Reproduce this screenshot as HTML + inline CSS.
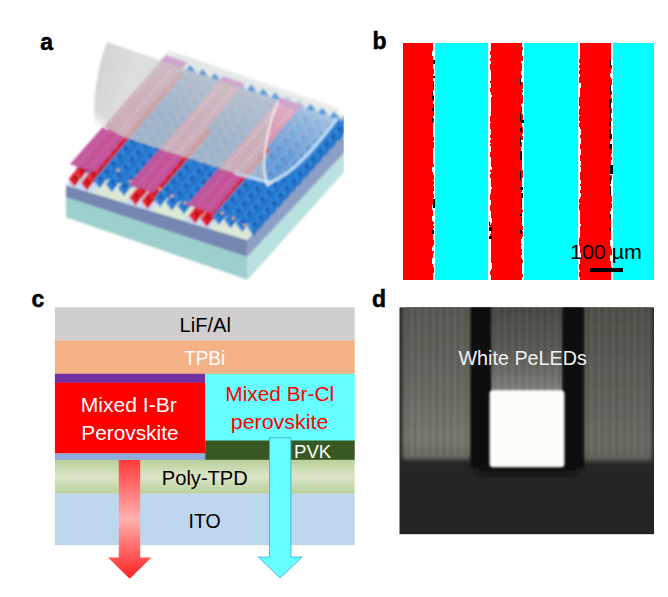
<!DOCTYPE html>
<html><head><meta charset="utf-8"><title>Figure</title>
<style>
html,body{margin:0;padding:0;background:#fff;}
body{width:668px;height:597px;overflow:hidden;font-family:"Liberation Sans",sans-serif;}
svg{display:block;font-family:"Liberation Sans",sans-serif;}
</style></head><body>
<svg width="668" height="597" viewBox="0 0 668 597">
<defs>
<linearGradient id="gPoly" x1="0" y1="0" x2="0" y2="1"><stop offset="0" stop-color="#b9cf98"/><stop offset="0.5" stop-color="#dbe6c8"/><stop offset="1" stop-color="#b9cf98"/></linearGradient>
<linearGradient id="gRedArrow" x1="0" y1="0" x2="0" y2="1"><stop offset="0" stop-color="#ff3a3a"/><stop offset="0.5" stop-color="#ffb0b0"/><stop offset="1" stop-color="#ff2020"/></linearGradient>
<linearGradient id="gDL" x1="0" y1="0" x2="0" y2="1"><stop offset="0" stop-color="#54564f"/><stop offset="0.5" stop-color="#65675f"/><stop offset="0.88" stop-color="#75776d"/><stop offset="1" stop-color="#66685f"/></linearGradient>
<linearGradient id="gDR" x1="0" y1="0" x2="0" y2="1"><stop offset="0" stop-color="#4c4e48"/><stop offset="0.5" stop-color="#5c5e56"/><stop offset="0.9" stop-color="#696b62"/><stop offset="1" stop-color="#5e6058"/></linearGradient>
<linearGradient id="gDM" x1="0" y1="0" x2="0" y2="1"><stop offset="0" stop-color="#464842"/><stop offset="0.6" stop-color="#5c5e58"/><stop offset="0.88" stop-color="#777973"/><stop offset="1" stop-color="#8a8c86"/></linearGradient>
<linearGradient id="gDG" x1="0" y1="0" x2="0" y2="1"><stop offset="0" stop-color="#2a2b28"/><stop offset="1" stop-color="#232421"/></linearGradient>
<pattern id="pStripe" patternUnits="userSpaceOnUse" x="400" y="0" width="7.2" height="10"><rect x="0" y="0" width="1.8" height="10" fill="#000" fill-opacity="0.05"/><rect x="3.6" y="0" width="1.8" height="10" fill="#fff" fill-opacity="0.035"/></pattern>
<clipPath id="clipD"><rect x="399.3" y="307.3" width="254.7" height="227.1"/></clipPath>
<filter id="blurD" x="-10%" y="-10%" width="120%" height="120%"><feGaussianBlur stdDeviation="1.3"/></filter>
<filter id="blurD2" x="-10%" y="-10%" width="120%" height="120%"><feGaussianBlur stdDeviation="0.8"/></filter>
<filter id="blurD3" x="-10%" y="-10%" width="120%" height="120%"><feGaussianBlur stdDeviation="2.2"/></filter>
<filter id="blurD4" x="-20%" y="-50%" width="140%" height="200%"><feGaussianBlur stdDeviation="3"/></filter>
<clipPath id="clipA"><rect x="55" y="30" width="288.7" height="260"/></clipPath>
<filter id="blurA" x="-5%" y="-5%" width="110%" height="110%"><feGaussianBlur stdDeviation="0.9"/></filter>
<clipPath id="clipRegA"><path d="M95 124 L125 137.5 L161 149.5 L180 155.5 L240 175 L270.0 182.5 C 298 172, 325 134, 337 119 L340 110 L350 110 L350 290 L50 290 L50 110 Z"/></clipPath>
<clipPath id="clipFlat"><path d="M104.5 126.5 L168.6 49.8 L339 108.2 L 337 119 C 325 134, 298 172, 270.0 182.5 L 240 175 L 180 155.5 L 161 149.5 L 125 137.5 L 104.5 126.5 Z"/></clipPath>
<linearGradient id="gFlat" gradientUnits="userSpaceOnUse" x1="215" y1="60" x2="190" y2="125"><stop offset="0" stop-color="#e6e6e8" stop-opacity="0.85"/><stop offset="0.3" stop-color="#e4e8ee" stop-opacity="0.58"/><stop offset="1" stop-color="#e4eaf2" stop-opacity="0.32"/></linearGradient>
<linearGradient id="gLift" gradientUnits="userSpaceOnUse" x1="94" y1="85" x2="160" y2="105"><stop offset="0" stop-color="#b6b6b6" stop-opacity="0.6"/><stop offset="0.5" stop-color="#c8c8c8" stop-opacity="0.6"/><stop offset="1" stop-color="#c5c5c5" stop-opacity="0.62"/></linearGradient>
<radialGradient id="gFade" gradientUnits="userSpaceOnUse" cx="90" cy="134" r="24"><stop offset="0" stop-color="#000"/><stop offset="0.4" stop-color="#000"/><stop offset="1" stop-color="#fff"/></radialGradient>
<mask id="mLift" maskUnits="userSpaceOnUse" x="50" y="30" width="300" height="260"><rect x="50" y="30" width="300" height="260" fill="#fff"/><rect x="50" y="30" width="300" height="260" fill="url(#gFade)"/></mask>
</defs>
<rect x="0" y="0" width="668" height="597" fill="#ffffff"/>
<text x="40.2" y="49.6" font-size="23" font-weight="bold" fill="#000" stroke="#000" stroke-width="0.5">a</text>
<text x="372.6" y="48.6" font-size="23" font-weight="bold" fill="#000" stroke="#000" stroke-width="0.5">b</text>
<text x="31.6" y="307.0" font-size="23" font-weight="bold" fill="#000" stroke="#000" stroke-width="0.5">c</text>
<text x="372.0" y="307.0" font-size="23" font-weight="bold" fill="#000" stroke="#000" stroke-width="0.5">d</text>
<g id="pb" shape-rendering="crispEdges">
<rect x="403.2" y="43.2" width="250.4" height="236.4" fill="#ffffff"/>
<rect x="403.2" y="43.2" width="30.2" height="236.4" fill="#ff0000"/>
<rect x="435.4" y="43.2" width="53.0" height="236.4" fill="#00ffff"/>
<rect x="491.4" y="43.2" width="30.2" height="236.4" fill="#ff0000"/>
<rect x="523.6" y="43.2" width="54.0" height="236.4" fill="#00ffff"/>
<rect x="580.4" y="43.2" width="30.2" height="236.4" fill="#ff0000"/>
<rect x="612.6" y="43.2" width="41.0" height="236.4" fill="#00ffff"/>
<rect x="432.4" y="51.2" width="1" height="5" fill="#ffffff"/><rect x="433.4" y="69.2" width="1" height="5" fill="#ff0000"/><rect x="433.4" y="95.2" width="1" height="6" fill="#ff0000"/><rect x="433.4" y="104.2" width="1" height="5" fill="#ff0000"/><rect x="433.4" y="110.2" width="1" height="6" fill="#ff0000"/><rect x="433.4" y="118.2" width="1" height="5" fill="#ff0000"/><rect x="433.4" y="137.2" width="1" height="4" fill="#ff0000"/><rect x="433.4" y="142.2" width="1" height="6" fill="#ff0000"/><rect x="433.4" y="164.2" width="1" height="3" fill="#ff0000"/><rect x="432.4" y="167.2" width="1" height="5" fill="#ffffff"/><rect x="433.4" y="175.2" width="1" height="5" fill="#ff0000"/><rect x="433.4" y="181.2" width="1" height="4" fill="#ff0000"/><rect x="433.4" y="187.2" width="1" height="4" fill="#ff0000"/><rect x="433.4" y="194.2" width="1" height="2" fill="#ff0000"/><rect x="433.4" y="196.2" width="1" height="2" fill="#ff0000"/><rect x="432.4" y="205.2" width="1" height="5" fill="#ffffff"/><rect x="432.4" y="216.2" width="1" height="5" fill="#ffffff"/><rect x="433.4" y="222.2" width="1" height="2" fill="#ff0000"/><rect x="433.4" y="226.2" width="1" height="2" fill="#ff0000"/><rect x="433.4" y="240.2" width="1" height="5" fill="#ff0000"/><rect x="432.4" y="247.2" width="1" height="4" fill="#ffffff"/><rect x="433.4" y="251.2" width="1" height="2" fill="#ff0000"/><rect x="432.4" y="258.2" width="1" height="6" fill="#ffffff"/><rect x="433.4" y="267.2" width="1" height="6" fill="#ff0000"/><rect x="521.6" y="47.2" width="1" height="3" fill="#ff0000"/><rect x="521.6" y="56.2" width="1" height="5" fill="#ff0000"/><rect x="520.6" y="61.2" width="1" height="2" fill="#ffffff"/><rect x="520.6" y="71.2" width="1" height="4" fill="#ffffff"/><rect x="520.6" y="78.2" width="1" height="4" fill="#ffffff"/><rect x="521.6" y="82.2" width="1" height="3" fill="#ff0000"/><rect x="521.6" y="85.2" width="1" height="4" fill="#ff0000"/><rect x="521.6" y="90.2" width="1" height="2" fill="#ff0000"/><rect x="521.6" y="95.2" width="1" height="5" fill="#ff0000"/><rect x="521.6" y="100.2" width="1" height="3" fill="#ff0000"/><rect x="520.6" y="104.2" width="1" height="2" fill="#ffffff"/><rect x="521.6" y="114.2" width="1" height="6" fill="#ff0000"/><rect x="521.6" y="127.2" width="1" height="2" fill="#ff0000"/><rect x="521.6" y="129.2" width="1" height="5" fill="#ff0000"/><rect x="521.6" y="136.2" width="1" height="4" fill="#ff0000"/><rect x="520.6" y="140.2" width="1" height="2" fill="#ffffff"/><rect x="520.6" y="147.2" width="1" height="4" fill="#ffffff"/><rect x="521.6" y="170.2" width="1" height="6" fill="#ff0000"/><rect x="521.6" y="176.2" width="1" height="2" fill="#ff0000"/><rect x="520.6" y="192.2" width="1" height="5" fill="#ffffff"/><rect x="521.6" y="210.2" width="1" height="2" fill="#ff0000"/><rect x="521.6" y="226.2" width="1" height="4" fill="#ff0000"/><rect x="521.6" y="231.2" width="1" height="6" fill="#ff0000"/><rect x="520.6" y="239.2" width="1" height="5" fill="#ffffff"/><rect x="520.6" y="245.2" width="1" height="4" fill="#ffffff"/><rect x="520.6" y="255.2" width="1" height="3" fill="#ffffff"/><rect x="521.6" y="260.2" width="1" height="3" fill="#ff0000"/><rect x="521.6" y="274.2" width="1" height="3" fill="#ff0000"/><rect x="610.6" y="65.2" width="1" height="4" fill="#ff0000"/><rect x="609.6" y="73.2" width="1" height="4" fill="#ffffff"/><rect x="610.6" y="79.2" width="1" height="6" fill="#ff0000"/><rect x="609.6" y="86.2" width="1" height="5" fill="#ffffff"/><rect x="610.6" y="91.2" width="1" height="4" fill="#ff0000"/><rect x="610.6" y="98.2" width="1" height="5" fill="#ff0000"/><rect x="610.6" y="108.2" width="1" height="5" fill="#ff0000"/><rect x="609.6" y="113.2" width="1" height="5" fill="#ffffff"/><rect x="610.6" y="118.2" width="1" height="3" fill="#ff0000"/><rect x="609.6" y="136.2" width="1" height="2" fill="#ffffff"/><rect x="609.6" y="141.2" width="1" height="3" fill="#ffffff"/><rect x="609.6" y="145.2" width="1" height="2" fill="#ffffff"/><rect x="610.6" y="149.2" width="1" height="5" fill="#ff0000"/><rect x="610.6" y="157.2" width="1" height="3" fill="#ff0000"/><rect x="609.6" y="171.2" width="1" height="4" fill="#ffffff"/><rect x="610.6" y="175.2" width="1" height="5" fill="#ff0000"/><rect x="609.6" y="183.2" width="1" height="4" fill="#ffffff"/><rect x="610.6" y="196.2" width="1" height="6" fill="#ff0000"/><rect x="610.6" y="203.2" width="1" height="5" fill="#ff0000"/><rect x="609.6" y="211.2" width="1" height="5" fill="#ffffff"/><rect x="609.6" y="216.2" width="1" height="3" fill="#ffffff"/><rect x="609.6" y="240.2" width="1" height="6" fill="#ffffff"/><rect x="610.6" y="249.2" width="1" height="6" fill="#ff0000"/><rect x="609.6" y="255.2" width="1" height="6" fill="#ffffff"/><rect x="610.6" y="267.2" width="1" height="5" fill="#ff0000"/><rect x="490.4" y="51.2" width="1" height="4" fill="#ff0000"/><rect x="490.4" y="58.2" width="1" height="3" fill="#ff0000"/><rect x="490.4" y="64.2" width="1" height="6" fill="#ff0000"/><rect x="490.4" y="81.2" width="1" height="2" fill="#ff0000"/><rect x="490.4" y="88.2" width="1" height="4" fill="#ff0000"/><rect x="491.4" y="95.2" width="1" height="2" fill="#ffffff"/><rect x="490.4" y="116.2" width="1" height="6" fill="#ff0000"/><rect x="490.4" y="123.2" width="1" height="6" fill="#ff0000"/><rect x="490.4" y="135.2" width="1" height="3" fill="#ff0000"/><rect x="490.4" y="140.2" width="1" height="3" fill="#ff0000"/><rect x="490.4" y="144.2" width="1" height="2" fill="#ff0000"/><rect x="490.4" y="152.2" width="1" height="5" fill="#ff0000"/><rect x="491.4" y="167.2" width="1" height="3" fill="#ffffff"/><rect x="490.4" y="170.2" width="1" height="2" fill="#ff0000"/><rect x="490.4" y="174.2" width="1" height="4" fill="#ff0000"/><rect x="491.4" y="187.2" width="1" height="2" fill="#ffffff"/><rect x="490.4" y="194.2" width="1" height="3" fill="#ff0000"/><rect x="490.4" y="197.2" width="1" height="3" fill="#ff0000"/><rect x="490.4" y="205.2" width="1" height="6" fill="#ff0000"/><rect x="491.4" y="218.2" width="1" height="5" fill="#ffffff"/><rect x="490.4" y="225.2" width="1" height="5" fill="#ff0000"/><rect x="490.4" y="234.2" width="1" height="3" fill="#ff0000"/><rect x="491.4" y="263.2" width="1" height="6" fill="#ffffff"/><rect x="490.4" y="271.2" width="1" height="4" fill="#ff0000"/><rect x="579.4" y="59.2" width="1" height="4" fill="#ff0000"/><rect x="579.4" y="65.2" width="1" height="3" fill="#ff0000"/><rect x="579.4" y="70.2" width="1" height="4" fill="#ff0000"/><rect x="579.4" y="77.2" width="1" height="6" fill="#ff0000"/><rect x="580.4" y="83.2" width="1" height="5" fill="#ffffff"/><rect x="579.4" y="97.2" width="1" height="6" fill="#ff0000"/><rect x="579.4" y="103.2" width="1" height="3" fill="#ff0000"/><rect x="579.4" y="109.2" width="1" height="6" fill="#ff0000"/><rect x="579.4" y="116.2" width="1" height="5" fill="#ff0000"/><rect x="579.4" y="123.2" width="1" height="4" fill="#ff0000"/><rect x="580.4" y="129.2" width="1" height="6" fill="#ffffff"/><rect x="580.4" y="138.2" width="1" height="6" fill="#ffffff"/><rect x="580.4" y="149.2" width="1" height="6" fill="#ffffff"/><rect x="580.4" y="161.2" width="1" height="5" fill="#ffffff"/><rect x="580.4" y="167.2" width="1" height="5" fill="#ffffff"/><rect x="580.4" y="180.2" width="1" height="4" fill="#ffffff"/><rect x="580.4" y="186.2" width="1" height="4" fill="#ffffff"/><rect x="580.4" y="193.2" width="1" height="4" fill="#ffffff"/><rect x="579.4" y="199.2" width="1" height="4" fill="#ff0000"/><rect x="579.4" y="204.2" width="1" height="6" fill="#ff0000"/><rect x="580.4" y="224.2" width="1" height="2" fill="#ffffff"/><rect x="579.4" y="238.2" width="1" height="3" fill="#ff0000"/><rect x="579.4" y="241.2" width="1" height="5" fill="#ff0000"/><rect x="580.4" y="253.2" width="1" height="6" fill="#ffffff"/><rect x="579.4" y="264.2" width="1" height="6" fill="#ff0000"/><rect x="579.4" y="272.2" width="1" height="5" fill="#ff0000"/>
<rect x="432.7" y="60.0" width="2" height="4" fill="#000"/><rect x="432.7" y="76.0" width="2" height="2" fill="#000"/><rect x="432.7" y="81.0" width="1" height="9" fill="#000"/><rect x="431.7" y="92.0" width="1" height="3" fill="#000"/><rect x="431.7" y="96.0" width="2" height="4" fill="#000"/><rect x="431.7" y="108.0" width="2" height="3" fill="#000"/><rect x="432.2" y="118.0" width="1" height="4" fill="#000"/><rect x="432.7" y="186.0" width="1" height="3" fill="#000"/><rect x="432.7" y="199.0" width="2" height="9" fill="#000"/><rect x="431.7" y="230.0" width="2" height="4" fill="#000"/><rect x="520.4" y="78.0" width="1" height="7" fill="#000"/><rect x="521.4" y="99.0" width="1" height="4" fill="#000"/><rect x="520.9" y="108.0" width="1" height="4" fill="#000"/><rect x="519.9" y="113.0" width="1" height="9" fill="#000"/><rect x="520.9" y="120.0" width="3" height="3" fill="#000"/><rect x="520.4" y="128.0" width="2" height="4" fill="#000"/><rect x="519.9" y="137.0" width="1" height="9" fill="#000"/><rect x="519.9" y="151.0" width="2" height="9" fill="#000"/><rect x="519.9" y="171.0" width="1" height="9" fill="#000"/><rect x="520.4" y="187.0" width="3" height="3" fill="#000"/><rect x="520.9" y="193.0" width="2" height="5" fill="#000"/><rect x="520.9" y="199.0" width="1" height="9" fill="#000"/><rect x="521.4" y="210.0" width="1" height="3" fill="#000"/><rect x="519.9" y="214.0" width="2" height="2" fill="#000"/><rect x="521.4" y="218.0" width="1" height="3" fill="#000"/><rect x="520.4" y="230.0" width="2" height="4" fill="#000"/><rect x="521.4" y="259.0" width="1" height="3" fill="#000"/><rect x="489.0" y="222.0" width="1" height="4" fill="#000"/><rect x="489.0" y="227.0" width="3" height="4" fill="#000"/><rect x="489.0" y="236.0" width="3" height="3" fill="#000"/><rect x="609.7" y="60.0" width="1" height="7" fill="#000"/><rect x="608.7" y="79.0" width="1" height="3" fill="#000"/><rect x="610.2" y="85.0" width="1" height="9" fill="#000"/><rect x="608.7" y="99.0" width="2" height="9" fill="#000"/><rect x="610.2" y="110.0" width="1" height="9" fill="#000"/><rect x="609.2" y="121.0" width="2" height="5" fill="#000"/><rect x="609.7" y="129.0" width="1" height="5" fill="#000"/><rect x="608.7" y="130.0" width="2" height="2" fill="#000"/><rect x="608.7" y="134.0" width="3" height="5" fill="#000"/><rect x="609.2" y="144.0" width="3" height="5" fill="#000"/><rect x="609.2" y="152.0" width="1" height="5" fill="#000"/><rect x="609.7" y="165.0" width="3" height="9" fill="#000"/><rect x="609.7" y="177.0" width="1" height="7" fill="#000"/><rect x="609.7" y="186.0" width="1" height="9" fill="#000"/><rect x="608.7" y="203.0" width="1" height="5" fill="#000"/><rect x="610.2" y="214.0" width="1" height="5" fill="#000"/><rect x="610.2" y="228.0" width="1" height="3" fill="#000"/>
<rect x="590" y="268.2" width="33" height="3.8" fill="#000"/>
</g>
<text x="570.0" y="259.2" font-size="19.8" fill="#000" font-weight="normal" text-anchor="start" textLength="72" lengthAdjust="spacingAndGlyphs">100 µm</text>
<g id="pc">
<rect x="54.9" y="307.3" width="299.8" height="33.3" fill="#d0cece"/>
<rect x="54.9" y="340.4" width="299.8" height="33.6" fill="#f4b183"/>
<rect x="54.9" y="373.8" width="150.3" height="9.1" fill="#7030a0"/>
<rect x="54.9" y="382.7" width="150.3" height="70.9" fill="#ff0000"/>
<rect x="54.9" y="453.4" width="150.3" height="6.6" fill="#8faadc"/>
<rect x="205.2" y="373.8" width="149.5" height="67.2" fill="#66ffff"/>
<rect x="205.2" y="440.5" width="149.5" height="19.5" fill="#385723"/>
<rect x="54.9" y="459.8" width="299.8" height="34.0" fill="url(#gPoly)"/>
<rect x="54.9" y="493.6" width="299.8" height="51.6" fill="#bdd7ee"/>
<text x="179.6" y="331.8" font-size="19.4" fill="#000" font-weight="normal" text-anchor="start" textLength="51.3" lengthAdjust="spacingAndGlyphs">LiF/Al</text>
<text x="184.2" y="365.4" font-size="19.4" fill="#fff" font-weight="normal" text-anchor="start" textLength="41" lengthAdjust="spacingAndGlyphs">TPBi</text>
<text x="80.8" y="412.0" font-size="20" fill="#fff" font-weight="normal" text-anchor="start" textLength="96" lengthAdjust="spacingAndGlyphs">Mixed I-Br</text>
<text x="81.3" y="440.0" font-size="20" fill="#fff" font-weight="normal" text-anchor="start" textLength="97.2" lengthAdjust="spacingAndGlyphs">Perovskite</text>
<text x="225.3" y="400.8" font-size="20" fill="#ff0000" font-weight="normal" text-anchor="start" textLength="108.8" lengthAdjust="spacingAndGlyphs">Mixed Br-Cl</text>
<text x="230.8" y="428.8" font-size="20" fill="#ff0000" font-weight="normal" text-anchor="start" textLength="97.5" lengthAdjust="spacingAndGlyphs">perovskite</text>
<text x="294.0" y="457.8" font-size="19" fill="#fff" font-weight="normal" text-anchor="start" textLength="37.2" lengthAdjust="spacingAndGlyphs">PVK</text>
<text x="161.8" y="484.9" font-size="20" fill="#000" font-weight="normal" text-anchor="start" textLength="86" lengthAdjust="spacingAndGlyphs">Poly-TPD</text>
<text x="188.6" y="528.0" font-size="20" fill="#000" font-weight="normal" text-anchor="start" textLength="32.2" lengthAdjust="spacingAndGlyphs">ITO</text>
<path d="M118.8 460 L140.2 460 L140.2 557.4 L151.5 557.4 L129.7 578.8 L108 557.4 L118.8 557.4 Z" fill="url(#gRedArrow)"/>
<path d="M269.5 437.8 L290.9 437.8 L290.9 557 L302.2 557 L280.2 578 L258.2 557 L269.5 557 Z" fill="#66ffff" stroke="#41a0d8" stroke-width="0.8"/>
</g>
<g id="pd" clip-path="url(#clipD)">
<rect x="399.3" y="307.3" width="254.7" height="227.1" fill="url(#gDG)"/>
<g filter="url(#blurD3)">
<rect x="402.5" y="296" width="69" height="163.5" rx="3" fill="url(#gDL)"/>
<rect x="583.0" y="296" width="69" height="165" rx="3" fill="url(#gDR)"/>
</g>
<g filter="url(#blurD)">
<rect x="490" y="300" width="73" height="95" fill="url(#gDM)"/>
</g>
<rect x="402" y="300" width="250" height="156" fill="url(#pStripe)"/>
<g filter="url(#blurD4)"><rect x="476" y="462" width="103" height="12" rx="4" fill="#0a0a09"/></g>
<g filter="url(#blurD)">
<rect x="470.8" y="296" width="20.2" height="172" fill="#070707"/>
<rect x="562.6" y="296" width="21.0" height="172" fill="#070707"/>
</g>
<g filter="url(#blurD2)"><rect x="489.6" y="390.2" width="74.8" height="77" rx="3.5" fill="#fdfdf8"/></g>
</g>
<text x="458.5" y="364.7" font-size="20" fill="#f2f2f2" font-weight="normal" text-anchor="start" textLength="128.3" lengthAdjust="spacingAndGlyphs">White PeLEDs</text>
<g id="pa" clip-path="url(#clipA)"><g filter="url(#blurA)">
<polygon points="66,196.5 247.3,256.5 247.6,279.8 66,217.2" fill="#9dcfcc" />
<polygon points="66,185 247,240 247.3,256.8 66,197" fill="#7486b0" />
<polygon points="247.3,256.5 357.3,138.6 357.6,156.9 247.6,279.8" fill="#b9e1df" />
<polygon points="247,240 357.0,120.5 357.3,138.6 247.3,256.8" fill="#8e9fc6" />
<polygon points="66.0,185.0 247.0,240.0 357.0,120.5 176.0,53.0" fill="#dbe9d6" />
<polygon points="66.0,185.0 93.0,193.2 203.0,73.7 176.0,65.5" fill="#c9ddf6" />
<polygon points="124.6,202.8 151.6,211.0 261.6,91.5 234.6,83.3" fill="#c9ddf6" />
<polygon points="183.2,220.6 210.2,228.8 320.2,109.3 293.2,101.1" fill="#c9ddf6" />
<polygon points="75.1,169.4 253.6,223.0 342.8,123.2 163.0,64.2" fill="#2578cc" />
<g id="cryst"><path d="M164.9 62.9L171.0 70.9L164.9 78.9L158.7 70.9Z" fill="#e8212b"/><path d="M164.9 62.9L171.0 70.9L164.9 78.9Z" fill="#cf1520"/><circle cx="165.4" cy="69.0" r="1.5" fill="#a80f18"/><path d="M177.3 66.9L183.5 75.0L177.3 83.1L171.1 75.0Z" fill="#e8212b"/><path d="M177.3 66.9L183.5 75.0L177.3 83.1Z" fill="#cf1520"/><circle cx="177.8" cy="73.1" r="1.5" fill="#a80f18"/><path d="M158.2 70.9L164.4 78.9L158.2 86.9L152.1 78.9Z" fill="#e8212b"/><path d="M158.2 70.9L164.4 78.9L158.2 86.9Z" fill="#cf1520"/><circle cx="158.7" cy="77.0" r="1.5" fill="#a80f18"/><path d="M190.2 64.9L196.5 73.1L190.2 81.2L184.0 73.1Z" fill="#2d84da"/><path d="M190.2 64.9L196.5 73.1L190.2 81.2Z" fill="#2473c8"/><circle cx="190.7" cy="71.1" r="1.5" fill="#17479a"/><path d="M170.7 74.9L176.9 82.9L170.7 91.0L164.5 82.9Z" fill="#e8212b"/><path d="M170.7 74.9L176.9 82.9L170.7 91.0Z" fill="#cf1520"/><circle cx="171.2" cy="81.0" r="1.5" fill="#a80f18"/><path d="M202.5 68.9L208.8 77.1L202.5 85.3L196.3 77.1Z" fill="#2d84da"/><path d="M202.5 68.9L208.8 77.1L202.5 85.3Z" fill="#2473c8"/><circle cx="203.0" cy="75.2" r="1.5" fill="#17479a"/><path d="M151.6 78.9L157.7 86.8L151.6 94.7L145.5 86.8Z" fill="#e8212b"/><path d="M151.6 78.9L157.7 86.8L151.6 94.7Z" fill="#cf1520"/><circle cx="152.1" cy="84.9" r="1.5" fill="#a80f18"/><path d="M183.6 72.9L189.8 81.0L183.6 89.1L177.4 81.0Z" fill="#2d84da"/><path d="M183.6 72.9L189.8 81.0L183.6 89.1Z" fill="#2473c8"/><circle cx="184.1" cy="79.0" r="1.5" fill="#17479a"/><path d="M214.8 72.9L221.1 81.2L214.8 89.4L208.5 81.2Z" fill="#2d84da"/><path d="M214.8 72.9L221.1 81.2L214.8 89.4Z" fill="#2473c8"/><circle cx="215.3" cy="79.2" r="1.5" fill="#17479a"/><path d="M164.1 82.8L170.2 90.8L164.1 98.8L157.9 90.8Z" fill="#e8212b"/><path d="M164.1 82.8L170.2 90.8L164.1 98.8Z" fill="#cf1520"/><circle cx="164.6" cy="88.9" r="1.5" fill="#a80f18"/><path d="M195.9 76.8L202.2 85.0L195.9 93.2L189.6 85.0Z" fill="#2d84da"/><path d="M195.9 76.8L202.2 85.0L195.9 93.2Z" fill="#2473c8"/><circle cx="196.4" cy="83.0" r="1.5" fill="#17479a"/><path d="M226.5 82.8L232.9 91.2L226.5 99.5L220.1 91.2Z" fill="#e8212b"/><path d="M226.5 82.8L232.9 91.2L226.5 99.5Z" fill="#cf1520"/><circle cx="227.0" cy="89.2" r="1.5" fill="#a80f18"/><path d="M145.0 86.8L151.1 94.7L145.0 102.6L139.0 94.7Z" fill="#e8212b"/><path d="M145.0 86.8L151.1 94.7L145.0 102.6Z" fill="#cf1520"/><circle cx="145.5" cy="92.8" r="1.5" fill="#a80f18"/><path d="M176.9 80.8L183.1 88.8L176.9 96.9L170.8 88.8Z" fill="#2d84da"/><path d="M176.9 80.8L183.1 88.8L176.9 96.9Z" fill="#2473c8"/><circle cx="177.4" cy="86.9" r="1.5" fill="#17479a"/><path d="M208.1 80.7L214.5 89.0L208.1 97.2L201.8 89.0Z" fill="#2d84da"/><path d="M208.1 80.7L214.5 89.0L208.1 97.2Z" fill="#2473c8"/><circle cx="208.6" cy="87.0" r="1.5" fill="#17479a"/><path d="M239.1 80.7L245.6 89.1L239.1 97.5L232.7 89.1Z" fill="#2d84da"/><path d="M239.1 80.7L245.6 89.1L239.1 97.5Z" fill="#2473c8"/><circle cx="239.6" cy="87.1" r="1.5" fill="#17479a"/><path d="M157.5 90.7L163.6 98.7L157.5 106.6L151.4 98.7Z" fill="#e8212b"/><path d="M157.5 90.7L163.6 98.7L157.5 106.6Z" fill="#cf1520"/><circle cx="158.0" cy="96.8" r="1.5" fill="#a80f18"/><path d="M189.3 84.7L195.5 92.8L189.3 101.0L183.0 92.8Z" fill="#2d84da"/><path d="M189.3 84.7L195.5 92.8L189.3 101.0Z" fill="#2473c8"/><circle cx="189.8" cy="90.9" r="1.5" fill="#17479a"/><path d="M219.8 90.7L226.2 99.0L219.8 107.3L213.5 99.0Z" fill="#e8212b"/><path d="M219.8 90.7L226.2 99.0L219.8 107.3Z" fill="#cf1520"/><circle cx="220.3" cy="97.0" r="1.5" fill="#a80f18"/><path d="M251.2 84.6L257.7 93.1L251.2 101.6L244.7 93.1Z" fill="#2d84da"/><path d="M251.2 84.6L257.7 93.1L251.2 101.6Z" fill="#2473c8"/><circle cx="251.7" cy="91.1" r="1.5" fill="#17479a"/><path d="M138.5 94.7L144.5 102.5L138.5 110.4L132.5 102.5Z" fill="#e8212b"/><path d="M138.5 94.7L144.5 102.5L138.5 110.4Z" fill="#cf1520"/><circle cx="139.0" cy="100.6" r="1.5" fill="#a80f18"/><path d="M170.3 88.6L176.5 96.7L170.3 104.7L164.2 96.7Z" fill="#2d84da"/><path d="M170.3 88.6L176.5 96.7L170.3 104.7Z" fill="#2473c8"/><circle cx="170.8" cy="94.7" r="1.5" fill="#17479a"/><path d="M201.5 88.6L207.8 96.8L201.5 105.0L195.2 96.8Z" fill="#2d84da"/><path d="M201.5 88.6L207.8 96.8L201.5 105.0Z" fill="#2473c8"/><circle cx="202.0" cy="94.8" r="1.5" fill="#17479a"/><path d="M232.4 88.5L238.9 96.9L232.4 105.3L226.0 96.9Z" fill="#2d84da"/><path d="M232.4 88.5L238.9 96.9L232.4 105.3Z" fill="#2473c8"/><circle cx="232.9" cy="94.9" r="1.5" fill="#17479a"/><path d="M263.2 88.5L269.7 97.0L263.2 105.6L256.7 97.0Z" fill="#2d84da"/><path d="M263.2 88.5L269.7 97.0L263.2 105.6Z" fill="#2473c8"/><circle cx="263.7" cy="95.0" r="1.5" fill="#17479a"/><path d="M150.9 98.6L157.0 106.5L150.9 114.4L144.8 106.5Z" fill="#e8212b"/><path d="M150.9 98.6L157.0 106.5L150.9 114.4Z" fill="#cf1520"/><circle cx="151.4" cy="104.6" r="1.5" fill="#a80f18"/><path d="M182.6 92.5L188.9 100.6L182.6 108.7L176.4 100.6Z" fill="#2d84da"/><path d="M182.6 92.5L188.9 100.6L182.6 108.7Z" fill="#2473c8"/><circle cx="183.1" cy="98.7" r="1.5" fill="#17479a"/><path d="M213.2 98.5L219.5 106.7L213.2 115.0L206.8 106.7Z" fill="#e8212b"/><path d="M213.2 98.5L219.5 106.7L213.2 115.0Z" fill="#cf1520"/><circle cx="213.7" cy="104.7" r="1.5" fill="#a80f18"/><path d="M244.5 92.4L251.0 100.8L244.5 109.3L238.0 100.8Z" fill="#2d84da"/><path d="M244.5 92.4L251.0 100.8L244.5 109.3Z" fill="#2473c8"/><circle cx="245.0" cy="98.8" r="1.5" fill="#17479a"/><path d="M275.1 92.4L281.7 101.0L275.1 109.6L268.5 101.0Z" fill="#2d84da"/><path d="M275.1 92.4L281.7 101.0L275.1 109.6Z" fill="#2473c8"/><circle cx="275.6" cy="98.9" r="1.5" fill="#17479a"/><path d="M132.0 102.5L138.0 110.3L132.0 118.2L125.9 110.3Z" fill="#e8212b"/><path d="M132.0 102.5L138.0 110.3L132.0 118.2Z" fill="#cf1520"/><circle cx="132.5" cy="108.5" r="1.5" fill="#a80f18"/><path d="M163.8 96.4L169.9 104.4L163.8 112.4L157.6 104.4Z" fill="#2d84da"/><path d="M163.8 96.4L169.9 104.4L163.8 112.4Z" fill="#2473c8"/><circle cx="164.3" cy="102.5" r="1.5" fill="#17479a"/><path d="M194.9 96.4L201.1 104.5L194.9 112.7L188.6 104.5Z" fill="#2d84da"/><path d="M194.9 96.4L201.1 104.5L194.9 112.7Z" fill="#2473c8"/><circle cx="195.4" cy="102.6" r="1.5" fill="#17479a"/><path d="M225.8 96.3L232.2 104.6L225.8 113.0L219.4 104.6Z" fill="#2d84da"/><path d="M225.8 96.3L232.2 104.6L225.8 113.0Z" fill="#2473c8"/><circle cx="226.3" cy="102.6" r="1.5" fill="#17479a"/><path d="M256.5 96.3L263.0 104.7L256.5 113.2L250.0 104.7Z" fill="#2d84da"/><path d="M256.5 96.3L263.0 104.7L256.5 113.2Z" fill="#2473c8"/><circle cx="257.0" cy="102.7" r="1.5" fill="#17479a"/><path d="M287.0 96.2L293.7 104.9L287.0 113.5L280.4 104.9Z" fill="#2d84da"/><path d="M287.0 96.2L293.7 104.9L287.0 113.5Z" fill="#2473c8"/><circle cx="287.5" cy="102.8" r="1.5" fill="#17479a"/><path d="M144.4 106.4L150.4 114.3L144.4 122.2L138.3 114.3Z" fill="#e8212b"/><path d="M144.4 106.4L150.4 114.3L144.4 122.2Z" fill="#cf1520"/><circle cx="144.9" cy="112.4" r="1.5" fill="#a80f18"/><path d="M176.1 100.3L182.3 108.4L176.1 116.4L169.9 108.4Z" fill="#2d84da"/><path d="M176.1 100.3L182.3 108.4L176.1 116.4Z" fill="#2473c8"/><circle cx="176.6" cy="106.4" r="1.5" fill="#17479a"/><path d="M206.6 106.2L212.9 114.5L206.6 122.7L200.2 114.5Z" fill="#e8212b"/><path d="M206.6 106.2L212.9 114.5L206.6 122.7Z" fill="#cf1520"/><circle cx="207.1" cy="112.5" r="1.5" fill="#a80f18"/><path d="M237.8 100.2L244.3 108.6L237.8 117.0L231.4 108.6Z" fill="#2d84da"/><path d="M237.8 100.2L244.3 108.6L237.8 117.0Z" fill="#2473c8"/><circle cx="238.3" cy="106.5" r="1.5" fill="#17479a"/><path d="M268.4 100.1L275.0 108.6L268.4 117.2L261.9 108.6Z" fill="#2d84da"/><path d="M268.4 100.1L275.0 108.6L268.4 117.2Z" fill="#2473c8"/><circle cx="268.9" cy="106.6" r="1.5" fill="#17479a"/><path d="M298.8 100.0L305.5 108.7L298.8 117.5L292.2 108.7Z" fill="#2d84da"/><path d="M298.8 100.0L305.5 108.7L298.8 117.5Z" fill="#2473c8"/><circle cx="299.3" cy="106.6" r="1.5" fill="#17479a"/><path d="M125.4 110.3L131.4 118.1L125.4 125.9L119.5 118.1Z" fill="#e8212b"/><path d="M125.4 110.3L131.4 118.1L125.4 125.9Z" fill="#cf1520"/><circle cx="125.9" cy="116.3" r="1.5" fill="#a80f18"/><path d="M157.2 104.2L163.3 112.2L157.2 120.2L151.1 112.2Z" fill="#2d84da"/><path d="M157.2 104.2L163.3 112.2L157.2 120.2Z" fill="#2473c8"/><circle cx="157.7" cy="110.3" r="1.5" fill="#17479a"/><path d="M188.3 104.1L194.5 112.3L188.3 120.4L182.1 112.3Z" fill="#2d84da"/><path d="M188.3 104.1L194.5 112.3L188.3 120.4Z" fill="#2473c8"/><circle cx="188.8" cy="110.3" r="1.5" fill="#17479a"/><path d="M219.2 104.1L225.5 112.4L219.2 120.7L212.8 112.4Z" fill="#2d84da"/><path d="M219.2 104.1L225.5 112.4L219.2 120.7Z" fill="#2473c8"/><circle cx="219.7" cy="110.4" r="1.5" fill="#17479a"/><path d="M249.8 104.0L256.3 112.4L249.8 120.9L243.4 112.4Z" fill="#2d84da"/><path d="M249.8 104.0L256.3 112.4L249.8 120.9Z" fill="#2473c8"/><circle cx="250.3" cy="110.4" r="1.5" fill="#17479a"/><path d="M279.8 109.9L286.4 118.5L279.8 127.1L273.2 118.5Z" fill="#e8212b"/><path d="M279.8 109.9L286.4 118.5L279.8 127.1Z" fill="#cf1520"/><circle cx="280.3" cy="116.4" r="1.5" fill="#a80f18"/><path d="M310.6 103.8L317.3 112.6L310.6 121.4L303.9 112.6Z" fill="#2d84da"/><path d="M310.6 103.8L317.3 112.6L310.6 121.4Z" fill="#2473c8"/><circle cx="311.1" cy="110.5" r="1.5" fill="#17479a"/><path d="M137.9 114.2L143.9 122.0L137.9 129.9L131.8 122.0Z" fill="#e8212b"/><path d="M137.9 114.2L143.9 122.0L137.9 129.9Z" fill="#cf1520"/><circle cx="138.4" cy="120.1" r="1.5" fill="#a80f18"/><path d="M169.5 108.1L175.7 116.1L169.5 124.1L163.4 116.1Z" fill="#2d84da"/><path d="M169.5 108.1L175.7 116.1L169.5 124.1Z" fill="#2473c8"/><circle cx="170.0" cy="114.2" r="1.5" fill="#17479a"/><path d="M200.0 114.0L206.2 122.2L200.0 130.4L193.7 122.2Z" fill="#e8212b"/><path d="M200.0 114.0L206.2 122.2L200.0 130.4Z" fill="#cf1520"/><circle cx="200.5" cy="120.2" r="1.5" fill="#a80f18"/><path d="M231.2 107.9L237.6 116.2L231.2 124.6L224.8 116.2Z" fill="#2d84da"/><path d="M231.2 107.9L237.6 116.2L231.2 124.6Z" fill="#2473c8"/><circle cx="231.7" cy="114.2" r="1.5" fill="#17479a"/><path d="M261.8 107.8L268.3 116.3L261.8 124.8L255.2 116.3Z" fill="#2d84da"/><path d="M261.8 107.8L268.3 116.3L261.8 124.8Z" fill="#2473c8"/><circle cx="262.3" cy="114.3" r="1.5" fill="#17479a"/><path d="M292.1 107.7L298.8 116.4L292.1 125.1L285.5 116.4Z" fill="#2d84da"/><path d="M292.1 107.7L298.8 116.4L292.1 125.1Z" fill="#2473c8"/><circle cx="292.6" cy="114.3" r="1.5" fill="#17479a"/><path d="M322.3 107.6L329.1 116.4L322.3 125.3L315.5 116.4Z" fill="#2d84da"/><path d="M322.3 107.6L329.1 116.4L322.3 125.3Z" fill="#2473c8"/><circle cx="322.8" cy="114.3" r="1.5" fill="#17479a"/><path d="M119.0 118.1L124.9 125.9L119.0 133.6L113.0 125.9Z" fill="#e8212b"/><path d="M119.0 118.1L124.9 125.9L119.0 133.6Z" fill="#cf1520"/><circle cx="119.5" cy="124.0" r="1.5" fill="#a80f18"/><path d="M150.7 112.0L156.8 119.9L150.7 127.9L144.6 119.9Z" fill="#2d84da"/><path d="M150.7 112.0L156.8 119.9L150.7 127.9Z" fill="#2473c8"/><circle cx="151.2" cy="118.0" r="1.5" fill="#17479a"/><path d="M181.7 111.9L187.9 120.0L181.7 128.1L175.5 120.0Z" fill="#2d84da"/><path d="M181.7 111.9L187.9 120.0L181.7 128.1Z" fill="#2473c8"/><circle cx="182.2" cy="118.0" r="1.5" fill="#17479a"/><path d="M212.6 111.8L218.9 120.0L212.6 128.3L206.2 120.0Z" fill="#2d84da"/><path d="M212.6 111.8L218.9 120.0L212.6 128.3Z" fill="#2473c8"/><circle cx="213.1" cy="118.1" r="1.5" fill="#17479a"/><path d="M243.2 111.7L249.7 120.1L243.2 128.5L236.7 120.1Z" fill="#2d84da"/><path d="M243.2 111.7L249.7 120.1L243.2 128.5Z" fill="#2473c8"/><circle cx="243.7" cy="118.1" r="1.5" fill="#17479a"/><path d="M273.1 117.5L279.7 126.1L273.1 134.7L266.6 126.1Z" fill="#e8212b"/><path d="M273.1 117.5L279.7 126.1L273.1 134.7Z" fill="#cf1520"/><circle cx="273.6" cy="124.1" r="1.5" fill="#a80f18"/><path d="M303.9 111.4L310.6 120.2L303.9 128.9L297.2 120.2Z" fill="#2d84da"/><path d="M303.9 111.4L310.6 120.2L303.9 128.9Z" fill="#2473c8"/><circle cx="304.4" cy="118.1" r="1.5" fill="#17479a"/><path d="M333.9 111.3L340.8 120.2L333.9 129.2L327.1 120.2Z" fill="#2d84da"/><path d="M333.9 111.3L340.8 120.2L333.9 129.2Z" fill="#2473c8"/><circle cx="334.4" cy="118.1" r="1.5" fill="#17479a"/><path d="M131.4 121.9L137.4 129.8L131.4 137.6L125.4 129.8Z" fill="#e8212b"/><path d="M131.4 121.9L137.4 129.8L131.4 137.6Z" fill="#cf1520"/><circle cx="131.9" cy="127.9" r="1.5" fill="#a80f18"/><path d="M163.0 115.8L169.1 123.8L163.0 131.8L156.9 123.8Z" fill="#2d84da"/><path d="M163.0 115.8L169.1 123.8L163.0 131.8Z" fill="#2473c8"/><circle cx="163.5" cy="121.9" r="1.5" fill="#17479a"/><path d="M193.4 121.7L199.7 129.8L193.4 138.0L187.1 129.8Z" fill="#e8212b"/><path d="M193.4 121.7L199.7 129.8L193.4 138.0Z" fill="#cf1520"/><circle cx="193.9" cy="127.9" r="1.5" fill="#a80f18"/><path d="M224.6 115.6L231.0 123.9L224.6 132.2L218.2 123.9Z" fill="#2d84da"/><path d="M224.6 115.6L231.0 123.9L224.6 132.2Z" fill="#2473c8"/><circle cx="225.1" cy="121.9" r="1.5" fill="#17479a"/><path d="M255.1 115.4L261.6 123.9L255.1 132.4L248.6 123.9Z" fill="#2d84da"/><path d="M255.1 115.4L261.6 123.9L255.1 132.4Z" fill="#2473c8"/><circle cx="255.6" cy="121.9" r="1.5" fill="#17479a"/><path d="M285.4 115.3L292.1 124.0L285.4 132.6L278.8 124.0Z" fill="#2d84da"/><path d="M285.4 115.3L292.1 124.0L285.4 132.6Z" fill="#2473c8"/><circle cx="285.9" cy="121.9" r="1.5" fill="#17479a"/><path d="M315.6 115.2L322.3 124.0L315.6 132.8L308.8 124.0Z" fill="#2d84da"/><path d="M315.6 115.2L322.3 124.0L315.6 132.8Z" fill="#2473c8"/><circle cx="316.1" cy="121.9" r="1.5" fill="#17479a"/><path d="M345.5 113.9L352.1 124.0L345.5 134.2L338.9 124.0Z" fill="#2d84da"/><path d="M345.5 113.9L352.1 124.0L345.5 134.2Z" fill="#2473c8"/><circle cx="346.0" cy="121.6" r="1.5" fill="#17479a"/><path d="M112.5 125.9L118.4 133.6L112.5 141.3L106.6 133.6Z" fill="#e8212b"/><path d="M112.5 125.9L118.4 133.6L112.5 141.3Z" fill="#cf1520"/><circle cx="113.0" cy="131.7" r="1.5" fill="#a80f18"/><path d="M144.2 119.7L150.3 127.6L144.2 135.5L138.2 127.6Z" fill="#2d84da"/><path d="M144.2 119.7L150.3 127.6L144.2 135.5Z" fill="#2473c8"/><circle cx="144.7" cy="125.7" r="1.5" fill="#17479a"/><path d="M175.2 119.6L181.4 127.7L175.2 135.7L169.0 127.7Z" fill="#2d84da"/><path d="M175.2 119.6L181.4 127.7L175.2 135.7Z" fill="#2473c8"/><circle cx="175.7" cy="125.7" r="1.5" fill="#17479a"/><path d="M205.5 125.5L211.8 133.7L205.5 141.9L199.2 133.7Z" fill="#e8212b"/><path d="M205.5 125.5L211.8 133.7L205.5 141.9Z" fill="#cf1520"/><circle cx="206.0" cy="131.7" r="1.5" fill="#a80f18"/><path d="M236.6 119.3L243.0 127.7L236.6 136.1L230.2 127.7Z" fill="#2d84da"/><path d="M236.6 119.3L243.0 127.7L236.6 136.1Z" fill="#2473c8"/><circle cx="237.1" cy="125.7" r="1.5" fill="#17479a"/><path d="M266.5 125.2L273.0 133.7L266.5 142.3L259.9 133.7Z" fill="#e8212b"/><path d="M266.5 125.2L273.0 133.7L266.5 142.3Z" fill="#cf1520"/><circle cx="267.0" cy="131.7" r="1.5" fill="#a80f18"/><path d="M297.2 119.0L303.9 127.8L297.2 136.5L290.5 127.8Z" fill="#2d84da"/><path d="M297.2 119.0L303.9 127.8L297.2 136.5Z" fill="#2473c8"/><circle cx="297.7" cy="125.7" r="1.5" fill="#17479a"/><path d="M327.2 118.9L334.0 127.8L327.2 136.7L320.4 127.8Z" fill="#2d84da"/><path d="M327.2 118.9L334.0 127.8L327.2 136.7Z" fill="#2473c8"/><circle cx="327.7" cy="125.7" r="1.5" fill="#17479a"/><path d="M124.9 129.7L130.9 137.5L124.9 145.3L118.9 137.5Z" fill="#e8212b"/><path d="M124.9 129.7L130.9 137.5L124.9 145.3Z" fill="#cf1520"/><circle cx="125.4" cy="135.6" r="1.5" fill="#a80f18"/><path d="M156.5 123.5L162.6 131.5L156.5 139.4L150.4 131.5Z" fill="#2d84da"/><path d="M156.5 123.5L162.6 131.5L156.5 139.4Z" fill="#2473c8"/><circle cx="157.0" cy="129.6" r="1.5" fill="#17479a"/><path d="M186.9 129.4L193.1 137.5L186.9 145.6L180.6 137.5Z" fill="#e8212b"/><path d="M186.9 129.4L193.1 137.5L186.9 145.6Z" fill="#cf1520"/><circle cx="187.4" cy="135.5" r="1.5" fill="#a80f18"/><path d="M218.0 123.2L224.4 131.5L218.0 139.8L211.7 131.5Z" fill="#2d84da"/><path d="M218.0 123.2L224.4 131.5L218.0 139.8Z" fill="#2473c8"/><circle cx="218.5" cy="129.5" r="1.5" fill="#17479a"/><path d="M248.5 123.1L255.0 131.5L248.5 140.0L242.0 131.5Z" fill="#2d84da"/><path d="M248.5 123.1L255.0 131.5L248.5 140.0Z" fill="#2473c8"/><circle cx="249.0" cy="129.5" r="1.5" fill="#17479a"/><path d="M278.8 122.9L285.4 131.5L278.8 140.2L272.2 131.5Z" fill="#2d84da"/><path d="M278.8 122.9L285.4 131.5L278.8 140.2Z" fill="#2473c8"/><circle cx="279.3" cy="129.5" r="1.5" fill="#17479a"/><path d="M308.9 122.8L315.6 131.6L308.9 140.3L302.1 131.6Z" fill="#2d84da"/><path d="M308.9 122.8L315.6 131.6L308.9 140.3Z" fill="#2473c8"/><circle cx="309.4" cy="129.4" r="1.5" fill="#17479a"/><path d="M338.8 121.4L345.3 131.6L338.8 141.7L332.2 131.6Z" fill="#2d84da"/><path d="M338.8 121.4L345.3 131.6L338.8 141.7Z" fill="#2473c8"/><circle cx="339.3" cy="129.1" r="1.5" fill="#17479a"/><path d="M106.1 133.6L112.0 141.3L106.1 149.0L100.2 141.3Z" fill="#e8212b"/><path d="M106.1 133.6L112.0 141.3L106.1 149.0Z" fill="#cf1520"/><circle cx="106.6" cy="139.4" r="1.5" fill="#a80f18"/><path d="M137.7 127.4L143.8 135.3L137.7 143.2L131.7 135.3Z" fill="#2d84da"/><path d="M137.7 127.4L143.8 135.3L137.7 143.2Z" fill="#2473c8"/><circle cx="138.2" cy="133.4" r="1.5" fill="#17479a"/><path d="M168.7 127.3L174.8 135.3L168.7 143.3L162.5 135.3Z" fill="#2d84da"/><path d="M168.7 127.3L174.8 135.3L168.7 143.3Z" fill="#2473c8"/><circle cx="169.2" cy="133.4" r="1.5" fill="#17479a"/><path d="M198.9 133.1L205.2 141.3L198.9 149.5L192.7 141.3Z" fill="#e8212b"/><path d="M198.9 133.1L205.2 141.3L198.9 149.5Z" fill="#cf1520"/><circle cx="199.4" cy="139.3" r="1.5" fill="#a80f18"/><path d="M230.0 126.9L236.4 135.3L230.0 143.7L223.6 135.3Z" fill="#2d84da"/><path d="M230.0 126.9L236.4 135.3L230.0 143.7Z" fill="#2473c8"/><circle cx="230.5" cy="133.3" r="1.5" fill="#17479a"/><path d="M259.9 132.8L266.4 141.3L259.9 149.8L253.3 141.3Z" fill="#e8212b"/><path d="M259.9 132.8L266.4 141.3L259.9 149.8Z" fill="#cf1520"/><circle cx="260.4" cy="139.3" r="1.5" fill="#a80f18"/><path d="M290.5 126.6L297.2 135.3L290.5 144.0L283.9 135.3Z" fill="#2d84da"/><path d="M290.5 126.6L297.2 135.3L290.5 144.0Z" fill="#2473c8"/><circle cx="291.0" cy="133.2" r="1.5" fill="#17479a"/><path d="M320.5 126.5L327.3 135.3L320.5 144.2L313.7 135.3Z" fill="#2d84da"/><path d="M320.5 126.5L327.3 135.3L320.5 144.2Z" fill="#2473c8"/><circle cx="321.0" cy="133.2" r="1.5" fill="#17479a"/><path d="M332.1 129.0L338.6 139.1L332.1 149.2L325.5 139.1Z" fill="#2d84da"/><path d="M332.1 129.0L338.6 139.1L332.1 149.2Z" fill="#2473c8"/><circle cx="332.6" cy="136.6" r="1.5" fill="#17479a"/><path d="M302.2 130.3L308.9 139.1L302.2 147.8L295.5 139.1Z" fill="#2d84da"/><path d="M302.2 130.3L308.9 139.1L302.2 147.8Z" fill="#2473c8"/><circle cx="302.7" cy="137.0" r="1.5" fill="#17479a"/><path d="M272.1 130.5L278.7 139.1L272.1 147.7L265.6 139.1Z" fill="#2d84da"/><path d="M272.1 130.5L278.7 139.1L272.1 147.7Z" fill="#2473c8"/><circle cx="272.6" cy="137.0" r="1.5" fill="#17479a"/><path d="M241.9 130.7L248.4 139.1L241.9 147.5L235.4 139.1Z" fill="#2d84da"/><path d="M241.9 130.7L248.4 139.1L241.9 147.5Z" fill="#2473c8"/><circle cx="242.4" cy="137.1" r="1.5" fill="#17479a"/><path d="M211.5 130.8L217.8 139.1L211.5 147.4L205.1 139.1Z" fill="#2d84da"/><path d="M211.5 130.8L217.8 139.1L211.5 147.4Z" fill="#2473c8"/><circle cx="212.0" cy="137.1" r="1.5" fill="#17479a"/><path d="M180.3 137.0L186.5 145.1L180.3 153.2L174.1 145.1Z" fill="#e8212b"/><path d="M180.3 137.0L186.5 145.1L180.3 153.2Z" fill="#cf1520"/><circle cx="180.8" cy="143.2" r="1.5" fill="#a80f18"/><path d="M150.0 131.2L156.1 139.1L150.0 147.0L143.9 139.1Z" fill="#2d84da"/><path d="M150.0 131.2L156.1 139.1L150.0 147.0Z" fill="#2473c8"/><circle cx="150.5" cy="137.2" r="1.5" fill="#17479a"/><path d="M118.5 137.4L124.4 145.1L118.5 152.9L112.5 145.1Z" fill="#e8212b"/><path d="M118.5 137.4L124.4 145.1L118.5 152.9Z" fill="#cf1520"/><circle cx="119.0" cy="143.3" r="1.5" fill="#a80f18"/><path d="M313.8 134.0L320.6 142.8L313.8 151.6L307.1 142.8Z" fill="#2d84da"/><path d="M313.8 134.0L320.6 142.8L313.8 151.6Z" fill="#2473c8"/><circle cx="314.3" cy="140.7" r="1.5" fill="#17479a"/><path d="M283.9 134.2L290.5 142.8L283.9 151.5L277.3 142.8Z" fill="#2d84da"/><path d="M283.9 134.2L290.5 142.8L283.9 151.5Z" fill="#2473c8"/><circle cx="284.4" cy="140.8" r="1.5" fill="#17479a"/><path d="M253.3 140.4L259.8 148.8L253.3 157.3L246.7 148.8Z" fill="#e8212b"/><path d="M253.3 140.4L259.8 148.8L253.3 157.3Z" fill="#cf1520"/><circle cx="253.8" cy="146.8" r="1.5" fill="#a80f18"/><path d="M223.4 134.5L229.8 142.9L223.4 151.2L217.1 142.9Z" fill="#2d84da"/><path d="M223.4 134.5L229.8 142.9L223.4 151.2Z" fill="#2473c8"/><circle cx="223.9" cy="140.9" r="1.5" fill="#17479a"/><path d="M192.4 140.7L198.7 148.9L192.4 157.0L186.2 148.9Z" fill="#e8212b"/><path d="M192.4 140.7L198.7 148.9L192.4 157.0Z" fill="#cf1520"/><circle cx="192.9" cy="146.9" r="1.5" fill="#a80f18"/><path d="M162.2 134.9L168.3 142.9L162.2 150.9L156.1 142.9Z" fill="#2d84da"/><path d="M162.2 134.9L168.3 142.9L162.2 150.9Z" fill="#2473c8"/><circle cx="162.7" cy="141.0" r="1.5" fill="#17479a"/><path d="M131.3 135.1L137.3 142.9L131.3 150.8L125.3 142.9Z" fill="#2d84da"/><path d="M131.3 135.1L137.3 142.9L131.3 150.8Z" fill="#2473c8"/><circle cx="131.8" cy="141.1" r="1.5" fill="#17479a"/><path d="M99.7 141.3L105.6 149.0L99.7 156.6L93.8 149.0Z" fill="#e8212b"/><path d="M99.7 141.3L105.6 149.0L99.7 156.6Z" fill="#cf1520"/><circle cx="100.2" cy="147.1" r="1.5" fill="#a80f18"/><path d="M325.4 136.5L331.9 146.5L325.4 156.6L318.9 146.5Z" fill="#2d84da"/><path d="M325.4 136.5L331.9 146.5L325.4 156.6Z" fill="#2473c8"/><circle cx="325.9" cy="144.1" r="1.5" fill="#17479a"/><path d="M295.6 137.8L302.2 146.6L295.6 155.3L288.9 146.6Z" fill="#2d84da"/><path d="M295.6 137.8L302.2 146.6L295.6 155.3Z" fill="#2473c8"/><circle cx="296.1" cy="144.5" r="1.5" fill="#17479a"/><path d="M265.0 144.0L271.6 152.6L265.0 161.1L258.5 152.6Z" fill="#e8212b"/><path d="M265.0 144.0L271.6 152.6L265.0 161.1Z" fill="#cf1520"/><circle cx="265.5" cy="150.5" r="1.5" fill="#a80f18"/><path d="M235.3 138.2L241.8 146.6L235.3 155.0L228.9 146.6Z" fill="#2d84da"/><path d="M235.3 138.2L241.8 146.6L235.3 155.0Z" fill="#2473c8"/><circle cx="235.8" cy="144.6" r="1.5" fill="#17479a"/><path d="M204.9 138.4L211.2 146.7L204.9 154.9L198.6 146.7Z" fill="#2d84da"/><path d="M204.9 138.4L211.2 146.7L204.9 154.9Z" fill="#2473c8"/><circle cx="205.4" cy="144.7" r="1.5" fill="#17479a"/><path d="M173.8 144.6L180.0 152.7L173.8 160.7L167.7 152.7Z" fill="#e8212b"/><path d="M173.8 144.6L180.0 152.7L173.8 160.7Z" fill="#cf1520"/><circle cx="174.3" cy="150.8" r="1.5" fill="#a80f18"/><path d="M143.6 138.8L149.6 146.7L143.6 154.6L137.5 146.7Z" fill="#2d84da"/><path d="M143.6 138.8L149.6 146.7L143.6 154.6Z" fill="#2473c8"/><circle cx="144.1" cy="144.8" r="1.5" fill="#17479a"/><path d="M112.1 145.0L118.0 152.8L112.1 160.5L106.1 152.8Z" fill="#e8212b"/><path d="M112.1 145.0L118.0 152.8L112.1 160.5Z" fill="#cf1520"/><circle cx="112.6" cy="150.9" r="1.5" fill="#a80f18"/><path d="M307.2 141.5L313.9 150.3L307.2 159.0L300.4 150.3Z" fill="#2d84da"/><path d="M307.2 141.5L313.9 150.3L307.2 159.0Z" fill="#2473c8"/><circle cx="307.7" cy="148.2" r="1.5" fill="#17479a"/><path d="M277.3 141.7L283.9 150.3L277.3 158.9L270.7 150.3Z" fill="#2d84da"/><path d="M277.3 141.7L283.9 150.3L277.3 158.9Z" fill="#2473c8"/><circle cx="277.8" cy="148.2" r="1.5" fill="#17479a"/><path d="M246.7 147.9L253.2 156.4L246.7 164.8L240.2 156.4Z" fill="#e8212b"/><path d="M246.7 147.9L253.2 156.4L246.7 164.8Z" fill="#cf1520"/><circle cx="247.2" cy="154.3" r="1.5" fill="#a80f18"/><path d="M216.9 142.1L223.3 150.4L216.9 158.7L210.5 150.4Z" fill="#2d84da"/><path d="M216.9 142.1L223.3 150.4L216.9 158.7Z" fill="#2473c8"/><circle cx="217.4" cy="148.4" r="1.5" fill="#17479a"/><path d="M185.9 148.3L192.1 156.4L185.9 164.6L179.7 156.4Z" fill="#e8212b"/><path d="M185.9 148.3L192.1 156.4L185.9 164.6Z" fill="#cf1520"/><circle cx="186.4" cy="154.5" r="1.5" fill="#a80f18"/><path d="M155.7 142.5L161.9 150.5L155.7 158.5L149.6 150.5Z" fill="#2d84da"/><path d="M155.7 142.5L161.9 150.5L155.7 158.5Z" fill="#2473c8"/><circle cx="156.2" cy="148.6" r="1.5" fill="#17479a"/><path d="M124.9 142.7L130.9 150.5L124.9 158.3L118.9 150.5Z" fill="#2d84da"/><path d="M124.9 142.7L130.9 150.5L124.9 158.3Z" fill="#2473c8"/><circle cx="125.4" cy="148.7" r="1.5" fill="#17479a"/><path d="M93.3 149.0L99.2 156.6L93.3 164.2L87.5 156.6Z" fill="#e8212b"/><path d="M93.3 149.0L99.2 156.6L93.3 164.2Z" fill="#cf1520"/><circle cx="93.8" cy="154.8" r="1.5" fill="#a80f18"/><path d="M318.7 144.0L325.2 154.0L318.7 164.0L312.2 154.0Z" fill="#2d84da"/><path d="M318.7 144.0L325.2 154.0L318.7 164.0Z" fill="#2473c8"/><circle cx="319.2" cy="151.6" r="1.5" fill="#17479a"/><path d="M288.9 145.3L295.6 154.0L288.9 162.7L282.3 154.0Z" fill="#2d84da"/><path d="M288.9 145.3L295.6 154.0L288.9 162.7Z" fill="#2473c8"/><circle cx="289.4" cy="151.9" r="1.5" fill="#17479a"/><path d="M258.5 151.6L265.0 160.1L258.5 168.6L251.9 160.1Z" fill="#e8212b"/><path d="M258.5 151.6L265.0 160.1L258.5 168.6Z" fill="#cf1520"/><circle cx="259.0" cy="158.0" r="1.5" fill="#a80f18"/><path d="M228.8 145.8L235.2 154.1L228.8 162.5L222.4 154.1Z" fill="#2d84da"/><path d="M228.8 145.8L235.2 154.1L228.8 162.5Z" fill="#2473c8"/><circle cx="229.3" cy="152.1" r="1.5" fill="#17479a"/><path d="M198.4 146.0L204.7 154.2L198.4 162.4L192.2 154.2Z" fill="#2d84da"/><path d="M198.4 146.0L204.7 154.2L198.4 162.4Z" fill="#2473c8"/><circle cx="198.9" cy="152.2" r="1.5" fill="#17479a"/><path d="M167.4 152.2L173.5 160.2L167.4 168.3L161.2 160.2Z" fill="#e8212b"/><path d="M167.4 152.2L173.5 160.2L167.4 168.3Z" fill="#cf1520"/><circle cx="167.9" cy="158.3" r="1.5" fill="#a80f18"/><path d="M137.1 146.4L143.2 154.3L137.1 162.2L131.1 154.3Z" fill="#2d84da"/><path d="M137.1 146.4L143.2 154.3L137.1 162.2Z" fill="#2473c8"/><circle cx="137.6" cy="152.4" r="1.5" fill="#17479a"/><path d="M105.7 152.7L111.6 160.4L105.7 168.1L99.8 160.4Z" fill="#e8212b"/><path d="M105.7 152.7L111.6 160.4L105.7 168.1Z" fill="#cf1520"/><circle cx="106.2" cy="158.5" r="1.5" fill="#a80f18"/><path d="M300.5 149.0L307.2 157.7L300.5 166.4L293.8 157.7Z" fill="#2d84da"/><path d="M300.5 149.0L307.2 157.7L300.5 166.4Z" fill="#2473c8"/><circle cx="301.0" cy="155.6" r="1.5" fill="#17479a"/><path d="M270.7 149.2L277.3 157.8L270.7 166.3L264.1 157.8Z" fill="#2d84da"/><path d="M270.7 149.2L277.3 157.8L270.7 166.3Z" fill="#2473c8"/><circle cx="271.2" cy="155.7" r="1.5" fill="#17479a"/><path d="M240.1 155.4L246.6 163.8L240.1 172.3L233.7 163.8Z" fill="#e8212b"/><path d="M240.1 155.4L246.6 163.8L240.1 172.3Z" fill="#cf1520"/><circle cx="240.6" cy="161.8" r="1.5" fill="#a80f18"/><path d="M210.4 149.7L216.7 157.9L210.4 166.2L204.1 157.9Z" fill="#2d84da"/><path d="M210.4 149.7L216.7 157.9L210.4 166.2Z" fill="#2473c8"/><circle cx="210.9" cy="155.9" r="1.5" fill="#17479a"/><path d="M179.4 155.9L185.7 164.0L179.4 172.1L173.2 164.0Z" fill="#e8212b"/><path d="M179.4 155.9L185.7 164.0L179.4 172.1Z" fill="#cf1520"/><circle cx="179.9" cy="162.0" r="1.5" fill="#a80f18"/><path d="M149.3 150.1L155.4 158.0L149.3 166.0L143.2 158.0Z" fill="#2d84da"/><path d="M149.3 150.1L155.4 158.0L149.3 166.0Z" fill="#2473c8"/><circle cx="149.8" cy="156.1" r="1.5" fill="#17479a"/><path d="M118.5 150.4L124.4 158.1L118.5 165.9L112.5 158.1Z" fill="#2d84da"/><path d="M118.5 150.4L124.4 158.1L118.5 165.9Z" fill="#2473c8"/><circle cx="119.0" cy="156.3" r="1.5" fill="#17479a"/><path d="M87.0 156.6L92.8 164.2L87.0 171.8L81.1 164.2Z" fill="#e8212b"/><path d="M87.0 156.6L92.8 164.2L87.0 171.8Z" fill="#cf1520"/><circle cx="87.5" cy="162.4" r="1.5" fill="#a80f18"/><path d="M312.1 151.4L318.5 161.4L312.1 171.3L305.6 161.4Z" fill="#2d84da"/><path d="M312.1 151.4L318.5 161.4L312.1 171.3Z" fill="#2473c8"/><circle cx="312.6" cy="159.0" r="1.5" fill="#17479a"/><path d="M282.3 152.8L289.0 161.4L282.3 170.1L275.7 161.4Z" fill="#2d84da"/><path d="M282.3 152.8L289.0 161.4L282.3 170.1Z" fill="#2473c8"/><circle cx="282.8" cy="159.4" r="1.5" fill="#17479a"/><path d="M251.9 159.1L258.4 167.5L251.9 176.0L245.4 167.5Z" fill="#e8212b"/><path d="M251.9 159.1L258.4 167.5L251.9 176.0Z" fill="#cf1520"/><circle cx="252.4" cy="165.5" r="1.5" fill="#a80f18"/><path d="M222.3 153.3L228.7 161.6L222.3 169.9L215.9 161.6Z" fill="#2d84da"/><path d="M222.3 153.3L228.7 161.6L222.3 169.9Z" fill="#2473c8"/><circle cx="222.8" cy="159.6" r="1.5" fill="#17479a"/><path d="M192.0 153.5L198.2 161.7L192.0 169.8L185.7 161.7Z" fill="#2d84da"/><path d="M192.0 153.5L198.2 161.7L192.0 169.8Z" fill="#2473c8"/><circle cx="192.5" cy="159.7" r="1.5" fill="#17479a"/><path d="M160.9 159.8L167.1 167.8L160.9 175.8L154.8 167.8Z" fill="#e8212b"/><path d="M160.9 159.8L167.1 167.8L160.9 175.8Z" fill="#cf1520"/><circle cx="161.4" cy="165.9" r="1.5" fill="#a80f18"/><path d="M130.7 154.0L136.7 161.9L130.7 169.7L124.7 161.9Z" fill="#2d84da"/><path d="M130.7 154.0L136.7 161.9L130.7 169.7Z" fill="#2473c8"/><circle cx="131.2" cy="160.0" r="1.5" fill="#17479a"/><path d="M99.3 160.3L105.2 167.9L99.3 175.6L93.5 167.9Z" fill="#e8212b"/><path d="M99.3 160.3L105.2 167.9L99.3 175.6Z" fill="#cf1520"/><circle cx="99.8" cy="166.1" r="1.5" fill="#a80f18"/><path d="M293.9 156.4L300.6 165.1L293.9 173.8L287.3 165.1Z" fill="#2d84da"/><path d="M293.9 156.4L300.6 165.1L293.9 173.8Z" fill="#2473c8"/><circle cx="294.4" cy="163.0" r="1.5" fill="#17479a"/><path d="M264.1 156.7L270.7 165.2L264.1 173.7L257.6 165.2Z" fill="#2d84da"/><path d="M264.1 156.7L270.7 165.2L264.1 173.7Z" fill="#2473c8"/><circle cx="264.6" cy="163.2" r="1.5" fill="#17479a"/><path d="M233.6 162.9L240.0 171.3L233.6 179.7L227.2 171.3Z" fill="#e8212b"/><path d="M233.6 162.9L240.0 171.3L233.6 179.7Z" fill="#cf1520"/><circle cx="234.1" cy="169.3" r="1.5" fill="#a80f18"/><path d="M203.9 157.2L210.2 165.4L203.9 173.6L197.6 165.4Z" fill="#2d84da"/><path d="M203.9 157.2L210.2 165.4L203.9 173.6Z" fill="#2473c8"/><circle cx="204.4" cy="163.4" r="1.5" fill="#17479a"/><path d="M173.0 163.4L179.2 171.5L173.0 179.5L166.8 171.5Z" fill="#e8212b"/><path d="M173.0 163.4L179.2 171.5L173.0 179.5Z" fill="#cf1520"/><circle cx="173.5" cy="169.5" r="1.5" fill="#a80f18"/><path d="M142.9 157.7L149.0 165.6L142.9 173.5L136.9 165.6Z" fill="#2d84da"/><path d="M142.9 157.7L149.0 165.6L142.9 173.5Z" fill="#2473c8"/><circle cx="143.4" cy="163.7" r="1.5" fill="#17479a"/><path d="M112.1 157.9L118.0 165.7L112.1 173.4L106.2 165.7Z" fill="#2d84da"/><path d="M112.1 157.9L118.0 165.7L112.1 173.4Z" fill="#2473c8"/><circle cx="112.6" cy="163.8" r="1.5" fill="#17479a"/><path d="M80.6 164.2L86.4 171.8L80.6 179.3L74.8 171.8Z" fill="#e8212b"/><path d="M80.6 164.2L86.4 171.8L80.6 179.3Z" fill="#cf1520"/><circle cx="81.1" cy="169.9" r="1.5" fill="#a80f18"/><path d="M305.5 158.8L311.9 168.7L305.5 178.7L299.1 168.7Z" fill="#2d84da"/><path d="M305.5 158.8L311.9 168.7L305.5 178.7Z" fill="#2473c8"/><circle cx="306.0" cy="166.4" r="1.5" fill="#17479a"/><path d="M275.8 160.2L282.4 168.9L275.8 177.5L269.2 168.9Z" fill="#2d84da"/><path d="M275.8 160.2L282.4 168.9L275.8 177.5Z" fill="#2473c8"/><circle cx="276.3" cy="166.8" r="1.5" fill="#17479a"/><path d="M245.4 166.5L251.8 175.0L245.4 183.4L238.9 175.0Z" fill="#e8212b"/><path d="M245.4 166.5L251.8 175.0L245.4 183.4Z" fill="#cf1520"/><circle cx="245.9" cy="172.9" r="1.5" fill="#a80f18"/><path d="M215.8 160.8L222.1 169.1L215.8 177.3L209.4 169.1Z" fill="#2d84da"/><path d="M215.8 160.8L222.1 169.1L215.8 177.3Z" fill="#2473c8"/><circle cx="216.3" cy="167.1" r="1.5" fill="#17479a"/><path d="M185.5 161.0L191.7 169.2L185.5 177.3L179.3 169.2Z" fill="#2d84da"/><path d="M185.5 161.0L191.7 169.2L185.5 177.3Z" fill="#2473c8"/><circle cx="186.0" cy="167.2" r="1.5" fill="#17479a"/><path d="M154.5 167.3L160.6 175.3L154.5 183.2L148.4 175.3Z" fill="#e8212b"/><path d="M154.5 167.3L160.6 175.3L154.5 183.2Z" fill="#cf1520"/><circle cx="155.0" cy="173.4" r="1.5" fill="#a80f18"/><path d="M124.4 161.6L130.3 169.4L124.4 177.2L118.4 169.4Z" fill="#2d84da"/><path d="M124.4 161.6L130.3 169.4L124.4 177.2Z" fill="#2473c8"/><circle cx="124.9" cy="167.5" r="1.5" fill="#17479a"/><path d="M93.0 167.9L98.8 175.5L93.0 183.1L87.1 175.5Z" fill="#e8212b"/><path d="M93.0 167.9L98.8 175.5L93.0 183.1Z" fill="#cf1520"/><circle cx="93.5" cy="173.6" r="1.5" fill="#a80f18"/><path d="M287.4 163.8L294.0 172.5L287.4 181.1L280.7 172.5Z" fill="#2d84da"/><path d="M287.4 163.8L294.0 172.5L287.4 181.1Z" fill="#2473c8"/><circle cx="287.9" cy="170.4" r="1.5" fill="#17479a"/><path d="M257.6 164.1L264.1 172.6L257.6 181.1L251.1 172.6Z" fill="#2d84da"/><path d="M257.6 164.1L264.1 172.6L257.6 181.1Z" fill="#2473c8"/><circle cx="258.1" cy="170.6" r="1.5" fill="#17479a"/><path d="M227.1 170.4L233.5 178.7L227.1 187.1L220.7 178.7Z" fill="#e8212b"/><path d="M227.1 170.4L233.5 178.7L227.1 187.1Z" fill="#cf1520"/><circle cx="227.6" cy="176.7" r="1.5" fill="#a80f18"/><path d="M197.4 164.6L203.7 172.8L197.4 181.0L191.2 172.8Z" fill="#2d84da"/><path d="M197.4 164.6L203.7 172.8L197.4 181.0Z" fill="#2473c8"/><circle cx="197.9" cy="170.9" r="1.5" fill="#17479a"/><path d="M166.6 170.9L172.7 178.9L166.6 187.0L160.4 178.9Z" fill="#e8212b"/><path d="M166.6 170.9L172.7 178.9L166.6 187.0Z" fill="#cf1520"/><circle cx="167.1" cy="177.0" r="1.5" fill="#a80f18"/><path d="M136.5 165.2L142.6 173.1L136.5 180.9L130.5 173.1Z" fill="#2d84da"/><path d="M136.5 165.2L142.6 173.1L136.5 180.9Z" fill="#2473c8"/><circle cx="137.0" cy="171.2" r="1.5" fill="#17479a"/><path d="M105.8 165.5L111.7 173.2L105.8 180.9L99.9 173.2Z" fill="#2d84da"/><path d="M105.8 165.5L111.7 173.2L105.8 180.9Z" fill="#2473c8"/><circle cx="106.3" cy="171.3" r="1.5" fill="#17479a"/><path d="M74.3 171.8L80.1 179.3L74.3 186.8L68.6 179.3Z" fill="#e8212b"/><path d="M74.3 171.8L80.1 179.3L74.3 186.8Z" fill="#cf1520"/><circle cx="74.8" cy="177.5" r="1.5" fill="#a80f18"/><path d="M298.9 166.2L305.3 176.1L298.9 186.0L292.5 176.1Z" fill="#2d84da"/><path d="M298.9 166.2L305.3 176.1L298.9 186.0Z" fill="#2473c8"/><circle cx="299.4" cy="173.7" r="1.5" fill="#17479a"/><path d="M269.2 167.7L275.8 176.2L269.2 184.8L262.7 176.2Z" fill="#2d84da"/><path d="M269.2 167.7L275.8 176.2L269.2 184.8Z" fill="#2473c8"/><circle cx="269.7" cy="174.2" r="1.5" fill="#17479a"/><path d="M238.9 173.9L245.3 182.4L238.9 190.8L232.4 182.4Z" fill="#e8212b"/><path d="M238.9 173.9L245.3 182.4L238.9 190.8Z" fill="#cf1520"/><circle cx="239.4" cy="180.3" r="1.5" fill="#a80f18"/><path d="M209.3 168.2L215.6 176.5L209.3 184.7L203.0 176.5Z" fill="#2d84da"/><path d="M209.3 168.2L215.6 176.5L209.3 184.7Z" fill="#2473c8"/><circle cx="209.8" cy="174.5" r="1.5" fill="#17479a"/><path d="M179.1 168.5L185.3 176.6L179.1 184.7L172.9 176.6Z" fill="#2d84da"/><path d="M179.1 168.5L185.3 176.6L179.1 184.7Z" fill="#2473c8"/><circle cx="179.6" cy="174.7" r="1.5" fill="#17479a"/><path d="M148.1 174.8L154.2 182.7L148.1 190.7L142.1 182.7Z" fill="#e8212b"/><path d="M148.1 174.8L154.2 182.7L148.1 190.7Z" fill="#cf1520"/><circle cx="148.6" cy="180.8" r="1.5" fill="#a80f18"/><path d="M118.0 169.1L124.0 176.9L118.0 184.6L112.1 176.9Z" fill="#2d84da"/><path d="M118.0 169.1L124.0 176.9L118.0 184.6Z" fill="#2473c8"/><circle cx="118.5" cy="175.0" r="1.5" fill="#17479a"/><path d="M86.7 175.4L92.5 183.0L86.7 190.6L80.9 183.0Z" fill="#e8212b"/><path d="M86.7 175.4L92.5 183.0L86.7 190.6Z" fill="#cf1520"/><circle cx="87.2" cy="181.2" r="1.5" fill="#a80f18"/><path d="M280.8 171.2L287.4 179.8L280.8 188.5L274.2 179.8Z" fill="#2d84da"/><path d="M280.8 171.2L287.4 179.8L280.8 188.5Z" fill="#2473c8"/><circle cx="281.3" cy="177.8" r="1.5" fill="#17479a"/><path d="M251.1 171.5L257.6 180.0L251.1 188.4L244.6 180.0Z" fill="#2d84da"/><path d="M251.1 171.5L257.6 180.0L251.1 188.4Z" fill="#2473c8"/><circle cx="251.6" cy="177.9" r="1.5" fill="#17479a"/><path d="M220.6 177.8L227.0 186.1L220.6 194.4L214.3 186.1Z" fill="#e8212b"/><path d="M220.6 177.8L227.0 186.1L220.6 194.4Z" fill="#cf1520"/><circle cx="221.1" cy="184.1" r="1.5" fill="#a80f18"/><path d="M191.0 172.1L197.3 180.2L191.0 188.4L184.8 180.2Z" fill="#2d84da"/><path d="M191.0 172.1L197.3 180.2L191.0 188.4Z" fill="#2473c8"/><circle cx="191.5" cy="178.3" r="1.5" fill="#17479a"/><path d="M160.2 178.4L166.3 186.4L160.2 194.4L154.1 186.4Z" fill="#e8212b"/><path d="M160.2 178.4L166.3 186.4L160.2 194.4Z" fill="#cf1520"/><circle cx="160.7" cy="184.5" r="1.5" fill="#a80f18"/><path d="M130.2 172.7L136.2 180.5L130.2 188.3L124.2 180.5Z" fill="#2d84da"/><path d="M130.2 172.7L136.2 180.5L130.2 188.3Z" fill="#2473c8"/><circle cx="130.7" cy="178.6" r="1.5" fill="#17479a"/><path d="M99.5 173.0L105.3 180.7L99.5 188.3L93.6 180.7Z" fill="#2d84da"/><path d="M99.5 173.0L105.3 180.7L99.5 188.3Z" fill="#2473c8"/><circle cx="100.0" cy="178.8" r="1.5" fill="#17479a"/><path d="M292.4 173.6L298.7 183.4L292.4 193.3L286.0 183.4Z" fill="#2d84da"/><path d="M292.4 173.6L298.7 183.4L292.4 193.3Z" fill="#2473c8"/><circle cx="292.9" cy="181.1" r="1.5" fill="#17479a"/><path d="M262.7 175.0L269.3 183.6L262.7 192.1L256.2 183.6Z" fill="#2d84da"/><path d="M262.7 175.0L269.3 183.6L262.7 192.1Z" fill="#2473c8"/><circle cx="263.2" cy="181.5" r="1.5" fill="#17479a"/><path d="M232.4 181.3L238.8 189.7L232.4 198.1L226.0 189.7Z" fill="#e8212b"/><path d="M232.4 181.3L238.8 189.7L232.4 198.1Z" fill="#cf1520"/><circle cx="232.9" cy="187.7" r="1.5" fill="#a80f18"/><path d="M202.9 175.7L209.2 183.9L202.9 192.1L196.6 183.9Z" fill="#2d84da"/><path d="M202.9 175.7L209.2 183.9L202.9 192.1Z" fill="#2473c8"/><circle cx="203.4" cy="181.9" r="1.5" fill="#17479a"/><path d="M172.7 176.0L178.8 184.0L172.7 192.1L166.5 184.0Z" fill="#2d84da"/><path d="M172.7 176.0L178.8 184.0L172.7 192.1Z" fill="#2473c8"/><circle cx="173.2" cy="182.1" r="1.5" fill="#17479a"/><path d="M141.8 182.3L147.8 190.2L141.8 198.1L135.7 190.2Z" fill="#e8212b"/><path d="M141.8 182.3L147.8 190.2L141.8 198.1Z" fill="#cf1520"/><circle cx="142.3" cy="188.3" r="1.5" fill="#a80f18"/><path d="M111.7 176.6L117.6 184.3L111.7 192.0L105.8 184.3Z" fill="#2d84da"/><path d="M111.7 176.6L117.6 184.3L111.7 192.0Z" fill="#2473c8"/><circle cx="112.2" cy="182.5" r="1.5" fill="#17479a"/><path d="M274.3 178.6L280.9 187.2L274.3 195.7L267.7 187.2Z" fill="#2d84da"/><path d="M274.3 178.6L280.9 187.2L274.3 195.7Z" fill="#2473c8"/><circle cx="274.8" cy="185.1" r="1.5" fill="#17479a"/><path d="M244.6 178.9L251.1 187.3L244.6 195.7L238.1 187.3Z" fill="#2d84da"/><path d="M244.6 178.9L251.1 187.3L244.6 195.7Z" fill="#2473c8"/><circle cx="245.1" cy="185.3" r="1.5" fill="#17479a"/><path d="M214.2 185.2L220.5 193.5L214.2 201.7L207.8 193.5Z" fill="#e8212b"/><path d="M214.2 185.2L220.5 193.5L214.2 201.7Z" fill="#cf1520"/><circle cx="214.7" cy="191.5" r="1.5" fill="#a80f18"/><path d="M184.6 179.5L190.8 187.6L184.6 195.7L178.4 187.6Z" fill="#2d84da"/><path d="M184.6 179.5L190.8 187.6L184.6 195.7Z" fill="#2473c8"/><circle cx="185.1" cy="185.7" r="1.5" fill="#17479a"/><path d="M153.8 185.8L159.9 193.8L153.8 201.7L147.7 193.8Z" fill="#e8212b"/><path d="M153.8 185.8L159.9 193.8L153.8 201.7Z" fill="#cf1520"/><circle cx="154.3" cy="191.9" r="1.5" fill="#a80f18"/><path d="M123.8 180.2L129.8 188.0L123.8 195.7L117.9 188.0Z" fill="#2d84da"/><path d="M123.8 180.2L129.8 188.0L123.8 195.7Z" fill="#2473c8"/><circle cx="124.3" cy="186.1" r="1.5" fill="#17479a"/><path d="M285.8 180.9L292.2 190.7L285.8 200.5L279.5 190.7Z" fill="#2d84da"/><path d="M285.8 180.9L292.2 190.7L285.8 200.5Z" fill="#2473c8"/><circle cx="286.3" cy="188.4" r="1.5" fill="#17479a"/><path d="M256.2 182.4L262.7 190.9L256.2 199.4L249.7 190.9Z" fill="#2d84da"/><path d="M256.2 182.4L262.7 190.9L256.2 199.4Z" fill="#2473c8"/><circle cx="256.7" cy="188.8" r="1.5" fill="#17479a"/><path d="M225.9 188.7L232.3 197.1L225.9 205.4L219.5 197.1Z" fill="#e8212b"/><path d="M225.9 188.7L232.3 197.1L225.9 205.4Z" fill="#cf1520"/><circle cx="226.4" cy="195.1" r="1.5" fill="#a80f18"/><path d="M196.5 183.1L202.7 191.2L196.5 199.4L190.2 191.2Z" fill="#2d84da"/><path d="M196.5 183.1L202.7 191.2L196.5 199.4Z" fill="#2473c8"/><circle cx="197.0" cy="189.3" r="1.5" fill="#17479a"/><path d="M166.3 183.4L172.4 191.4L166.3 199.4L160.1 191.4Z" fill="#2d84da"/><path d="M166.3 183.4L172.4 191.4L166.3 199.4Z" fill="#2473c8"/><circle cx="166.8" cy="189.5" r="1.5" fill="#17479a"/><path d="M135.4 189.7L141.5 197.6L135.4 205.4L129.4 197.6Z" fill="#e8212b"/><path d="M135.4 189.7L141.5 197.6L135.4 205.4Z" fill="#cf1520"/><circle cx="135.9" cy="195.7" r="1.5" fill="#a80f18"/><path d="M267.8 185.9L274.4 194.4L267.8 203.0L261.2 194.4Z" fill="#2d84da"/><path d="M267.8 185.9L274.4 194.4L267.8 203.0Z" fill="#2473c8"/><circle cx="268.3" cy="192.4" r="1.5" fill="#17479a"/><path d="M238.1 186.2L244.6 194.6L238.1 203.0L231.7 194.6Z" fill="#2d84da"/><path d="M238.1 186.2L244.6 194.6L238.1 203.0Z" fill="#2473c8"/><circle cx="238.6" cy="192.6" r="1.5" fill="#17479a"/><path d="M207.8 192.6L214.1 200.8L207.8 209.1L201.4 200.8Z" fill="#e8212b"/><path d="M207.8 192.6L214.1 200.8L207.8 209.1Z" fill="#cf1520"/><circle cx="208.3" cy="198.8" r="1.5" fill="#a80f18"/><path d="M178.2 186.9L184.4 195.0L178.2 203.1L172.0 195.0Z" fill="#2d84da"/><path d="M178.2 186.9L184.4 195.0L178.2 203.1Z" fill="#2473c8"/><circle cx="178.7" cy="193.1" r="1.5" fill="#17479a"/><path d="M147.5 193.3L153.5 201.2L147.5 209.1L141.4 201.2Z" fill="#e8212b"/><path d="M147.5 193.3L153.5 201.2L147.5 209.1Z" fill="#cf1520"/><circle cx="148.0" cy="199.3" r="1.5" fill="#a80f18"/><path d="M279.3 188.2L285.6 198.0L279.3 207.8L273.0 198.0Z" fill="#2d84da"/><path d="M279.3 188.2L285.6 198.0L279.3 207.8Z" fill="#2473c8"/><circle cx="279.8" cy="195.6" r="1.5" fill="#17479a"/><path d="M249.8 189.7L256.2 198.2L249.8 206.6L243.3 198.2Z" fill="#2d84da"/><path d="M249.8 189.7L256.2 198.2L249.8 206.6Z" fill="#2473c8"/><circle cx="250.3" cy="196.1" r="1.5" fill="#17479a"/><path d="M219.5 196.1L225.9 204.4L219.5 212.7L213.1 204.4Z" fill="#e8212b"/><path d="M219.5 196.1L225.9 204.4L219.5 212.7Z" fill="#cf1520"/><circle cx="220.0" cy="202.4" r="1.5" fill="#a80f18"/><path d="M190.1 190.4L196.3 198.6L190.1 206.7L183.8 198.6Z" fill="#2d84da"/><path d="M190.1 190.4L196.3 198.6L190.1 206.7Z" fill="#2473c8"/><circle cx="190.6" cy="196.6" r="1.5" fill="#17479a"/><path d="M159.9 190.8L166.1 198.8L159.9 206.7L153.8 198.8Z" fill="#2d84da"/><path d="M159.9 190.8L166.1 198.8L159.9 206.7Z" fill="#2473c8"/><circle cx="160.4" cy="196.8" r="1.5" fill="#17479a"/><path d="M261.3 193.2L267.9 201.7L261.3 210.2L254.8 201.7Z" fill="#2d84da"/><path d="M261.3 193.2L267.9 201.7L261.3 210.2Z" fill="#2473c8"/><circle cx="261.8" cy="199.7" r="1.5" fill="#17479a"/><path d="M231.7 193.5L238.1 201.9L231.7 210.3L225.3 201.9Z" fill="#2d84da"/><path d="M231.7 193.5L238.1 201.9L231.7 210.3Z" fill="#2473c8"/><circle cx="232.2" cy="199.9" r="1.5" fill="#17479a"/><path d="M201.4 199.9L207.7 208.1L201.4 216.3L195.1 208.1Z" fill="#e8212b"/><path d="M201.4 199.9L207.7 208.1L201.4 216.3Z" fill="#cf1520"/><circle cx="201.9" cy="206.1" r="1.5" fill="#a80f18"/><path d="M171.8 194.3L178.0 202.3L171.8 210.4L165.7 202.3Z" fill="#2d84da"/><path d="M171.8 194.3L178.0 202.3L171.8 210.4Z" fill="#2473c8"/><circle cx="172.3" cy="200.4" r="1.5" fill="#17479a"/><path d="M272.8 195.5L279.1 205.2L272.8 215.0L266.5 205.2Z" fill="#2d84da"/><path d="M272.8 195.5L279.1 205.2L272.8 215.0Z" fill="#2473c8"/><circle cx="273.3" cy="202.9" r="1.5" fill="#17479a"/><path d="M243.3 197.0L249.8 205.4L243.3 213.9L236.9 205.4Z" fill="#2d84da"/><path d="M243.3 197.0L249.8 205.4L243.3 213.9Z" fill="#2473c8"/><circle cx="243.8" cy="203.4" r="1.5" fill="#17479a"/><path d="M213.1 203.4L219.4 211.7L213.1 219.9L206.8 211.7Z" fill="#e8212b"/><path d="M213.1 203.4L219.4 211.7L213.1 219.9Z" fill="#cf1520"/><circle cx="213.6" cy="209.7" r="1.5" fill="#a80f18"/><path d="M183.7 197.8L189.9 205.9L183.7 214.0L177.5 205.9Z" fill="#2d84da"/><path d="M183.7 197.8L189.9 205.9L183.7 214.0Z" fill="#2473c8"/><circle cx="184.2" cy="203.9" r="1.5" fill="#17479a"/><path d="M254.9 200.5L261.4 208.9L254.9 217.4L248.4 208.9Z" fill="#2d84da"/><path d="M254.9 200.5L261.4 208.9L254.9 217.4Z" fill="#2473c8"/><circle cx="255.4" cy="206.9" r="1.5" fill="#17479a"/><path d="M225.3 200.8L231.7 209.2L225.3 217.5L218.9 209.2Z" fill="#2d84da"/><path d="M225.3 200.8L231.7 209.2L225.3 217.5Z" fill="#2473c8"/><circle cx="225.8" cy="207.2" r="1.5" fill="#17479a"/><path d="M195.0 207.2L201.3 215.4L195.0 223.6L188.7 215.4Z" fill="#e8212b"/><path d="M195.0 207.2L201.3 215.4L195.0 223.6Z" fill="#cf1520"/><circle cx="195.5" cy="213.4" r="1.5" fill="#a80f18"/><path d="M266.4 202.7L272.7 212.4L266.4 222.1L260.1 212.4Z" fill="#2d84da"/><path d="M266.4 202.7L272.7 212.4L266.4 222.1Z" fill="#2473c8"/><circle cx="266.9" cy="210.1" r="1.5" fill="#17479a"/><path d="M236.9 204.3L243.3 212.7L236.9 221.1L230.5 212.7Z" fill="#2d84da"/><path d="M236.9 204.3L243.3 212.7L236.9 221.1Z" fill="#2473c8"/><circle cx="237.4" cy="210.7" r="1.5" fill="#17479a"/><path d="M206.7 210.7L213.0 218.9L206.7 227.1L200.4 218.9Z" fill="#e8212b"/><path d="M206.7 210.7L213.0 218.9L206.7 227.1Z" fill="#cf1520"/><circle cx="207.2" cy="216.9" r="1.5" fill="#a80f18"/><path d="M248.5 207.7L254.9 216.2L248.5 224.6L242.0 216.2Z" fill="#2d84da"/><path d="M248.5 207.7L254.9 216.2L248.5 224.6Z" fill="#2473c8"/><circle cx="249.0" cy="214.1" r="1.5" fill="#17479a"/><path d="M218.9 208.1L225.3 216.4L218.9 224.7L212.5 216.4Z" fill="#2d84da"/><path d="M218.9 208.1L225.3 216.4L218.9 224.7Z" fill="#2473c8"/><circle cx="219.4" cy="214.4" r="1.5" fill="#17479a"/><path d="M260.0 210.0L266.2 219.6L260.0 229.3L253.7 219.6Z" fill="#2d84da"/><path d="M260.0 210.0L266.2 219.6L260.0 229.3Z" fill="#2473c8"/><circle cx="260.5" cy="217.3" r="1.5" fill="#17479a"/><path d="M230.5 211.5L236.9 219.9L230.5 228.2L224.1 219.9Z" fill="#2d84da"/><path d="M230.5 211.5L236.9 219.9L230.5 228.2Z" fill="#2473c8"/><circle cx="231.0" cy="217.9" r="1.5" fill="#17479a"/><path d="M242.1 214.9L248.5 223.3L242.1 231.8L235.6 223.3Z" fill="#2d84da"/><path d="M242.1 214.9L248.5 223.3L242.1 231.8Z" fill="#2473c8"/><circle cx="242.6" cy="221.3" r="1.5" fill="#17479a"/><path d="M253.6 217.2L259.8 226.8L253.6 236.4L247.3 226.8Z" fill="#2d84da"/><path d="M253.6 217.2L259.8 226.8L253.6 236.4Z" fill="#2473c8"/><circle cx="254.1" cy="224.5" r="1.5" fill="#17479a"/></g>
<circle cx="104" cy="156.5" r="1.6" fill="#f7b06a"/>
<circle cx="118" cy="170" r="1.6" fill="#f7b06a"/>
<circle cx="131" cy="181" r="1.6" fill="#f7b06a"/>
<circle cx="160" cy="189" r="1.6" fill="#f7b06a"/>
<circle cx="172" cy="196" r="1.6" fill="#f7b06a"/>
<circle cx="185" cy="203" r="1.6" fill="#f7b06a"/>
<circle cx="222" cy="213" r="1.6" fill="#f7b06a"/>
<circle cx="233" cy="218" r="1.6" fill="#f7b06a"/>
<circle cx="245" cy="225" r="1.6" fill="#f7b06a"/>
<g clip-path="url(#clipFlat)"><polygon points="69.9,164.3 95.4,172.1 187.5,62.5 166.0,55.0" fill="#cf5a86" fill-opacity="1"/><polygon points="128.5,184.7 154.0,192.5 244.7,83.7 223.2,76.2" fill="#cf5a86" fill-opacity="1"/><polygon points="187.1,205.1 212.6,212.9 301.9,104.9 280.4,97.4" fill="#cf5a86" fill-opacity="1"/></g>
<g clip-path="url(#clipRegA)"><polygon points="69.9,164.3 95.4,172.1 187.5,62.5 166.0,55.0" fill="#c4559b" fill-opacity="0.97"/><polygon points="128.5,184.7 154.0,192.5 244.7,83.7 223.2,76.2" fill="#c4559b" fill-opacity="0.97"/><polygon points="187.1,205.1 212.6,212.9 301.9,104.9 280.4,97.4" fill="#c4559b" fill-opacity="0.97"/></g>
<path clip-path="url(#clipRegA)" d="M80.3 163.4l1.6 -1.8l1.2 0.4M83.1 160.2l1.6 -1.8l1.2 0.4M85.9 157.0l1.6 -1.8l1.2 0.4M88.7 153.8l1.6 -1.8l1.2 0.4M91.5 150.5l1.6 -1.8l1.2 0.4M94.3 147.3l1.6 -1.8l1.2 0.4M97.1 144.1l1.6 -1.8l1.2 0.4M99.9 140.9l1.6 -1.8l1.2 0.4M102.7 137.7l1.6 -1.8l1.2 0.4M105.5 134.5l1.6 -1.8l1.2 0.4M108.3 131.2l1.6 -1.8l1.2 0.4M111.0 128.0l1.6 -1.8l1.2 0.4M113.8 124.8l1.6 -1.8l1.2 0.4M116.6 121.6l1.6 -1.8l1.2 0.4M119.4 118.4l1.6 -1.8l1.2 0.4M122.2 115.2l1.6 -1.8l1.2 0.4M125.0 111.9l1.6 -1.8l1.2 0.4M127.8 108.7l1.6 -1.8l1.2 0.4M130.6 105.5l1.6 -1.8l1.2 0.4M133.4 102.3l1.6 -1.8l1.2 0.4M136.2 99.1l1.6 -1.8l1.2 0.4M139.0 95.9l1.6 -1.8l1.2 0.4M141.7 92.6l1.6 -1.8l1.2 0.4M144.5 89.4l1.6 -1.8l1.2 0.4M147.3 86.2l1.6 -1.8l1.2 0.4M150.1 83.0l1.6 -1.8l1.2 0.4M152.9 79.8l1.6 -1.8l1.2 0.4M155.7 76.6l1.6 -1.8l1.2 0.4M158.5 73.3l1.6 -1.8l1.2 0.4M161.3 70.1l1.6 -1.8l1.2 0.4M164.1 66.9l1.6 -1.8l1.2 0.4M166.9 63.7l1.6 -1.8l1.2 0.4M169.7 60.5l1.6 -1.8l1.2 0.4M90.5 166.5l1.6 -1.8l1.2 0.4M93.2 163.3l1.6 -1.8l1.2 0.4M96.0 160.1l1.6 -1.8l1.2 0.4M98.7 156.8l1.6 -1.8l1.2 0.4M101.5 153.6l1.6 -1.8l1.2 0.4M104.2 150.4l1.6 -1.8l1.2 0.4M107.0 147.2l1.6 -1.8l1.2 0.4M109.7 144.0l1.6 -1.8l1.2 0.4M112.4 140.7l1.6 -1.8l1.2 0.4M115.2 137.5l1.6 -1.8l1.2 0.4M117.9 134.3l1.6 -1.8l1.2 0.4M120.7 131.1l1.6 -1.8l1.2 0.4M123.4 127.9l1.6 -1.8l1.2 0.4M126.2 124.6l1.6 -1.8l1.2 0.4M128.9 121.4l1.6 -1.8l1.2 0.4M131.7 118.2l1.6 -1.8l1.2 0.4M134.4 115.0l1.6 -1.8l1.2 0.4M137.1 111.8l1.6 -1.8l1.2 0.4M139.9 108.5l1.6 -1.8l1.2 0.4M142.6 105.3l1.6 -1.8l1.2 0.4M145.4 102.1l1.6 -1.8l1.2 0.4M148.1 98.9l1.6 -1.8l1.2 0.4M150.9 95.7l1.6 -1.8l1.2 0.4M153.6 92.4l1.6 -1.8l1.2 0.4M156.4 89.2l1.6 -1.8l1.2 0.4M159.1 86.0l1.6 -1.8l1.2 0.4M161.8 82.8l1.6 -1.8l1.2 0.4M164.6 79.6l1.6 -1.8l1.2 0.4M167.3 76.3l1.6 -1.8l1.2 0.4M170.1 73.1l1.6 -1.8l1.2 0.4M172.8 69.9l1.6 -1.8l1.2 0.4M175.6 66.7l1.6 -1.8l1.2 0.4M178.3 63.5l1.6 -1.8l1.2 0.4M138.9 183.8l1.6 -1.8l1.2 0.4M141.7 180.6l1.6 -1.8l1.2 0.4M144.4 177.4l1.6 -1.8l1.2 0.4M147.1 174.3l1.6 -1.8l1.2 0.4M149.9 171.1l1.6 -1.8l1.2 0.4M152.6 167.9l1.6 -1.8l1.2 0.4M155.4 164.7l1.6 -1.8l1.2 0.4M158.1 161.5l1.6 -1.8l1.2 0.4M160.9 158.3l1.6 -1.8l1.2 0.4M163.6 155.1l1.6 -1.8l1.2 0.4M166.4 151.9l1.6 -1.8l1.2 0.4M169.1 148.7l1.6 -1.8l1.2 0.4M171.9 145.5l1.6 -1.8l1.2 0.4M174.6 142.3l1.6 -1.8l1.2 0.4M177.4 139.1l1.6 -1.8l1.2 0.4M180.1 135.9l1.6 -1.8l1.2 0.4M182.9 132.7l1.6 -1.8l1.2 0.4M185.6 129.5l1.6 -1.8l1.2 0.4M188.4 126.4l1.6 -1.8l1.2 0.4M191.1 123.2l1.6 -1.8l1.2 0.4M193.9 120.0l1.6 -1.8l1.2 0.4M196.7 116.8l1.6 -1.8l1.2 0.4M199.4 113.6l1.6 -1.8l1.2 0.4M202.1 110.4l1.6 -1.8l1.2 0.4M204.9 107.2l1.6 -1.8l1.2 0.4M207.6 104.0l1.6 -1.8l1.2 0.4M210.4 100.8l1.6 -1.8l1.2 0.4M213.1 97.6l1.6 -1.8l1.2 0.4M215.9 94.4l1.6 -1.8l1.2 0.4M218.6 91.2l1.6 -1.8l1.2 0.4M221.4 88.0l1.6 -1.8l1.2 0.4M224.1 84.8l1.6 -1.8l1.2 0.4M226.9 81.6l1.6 -1.8l1.2 0.4M149.1 186.9l1.6 -1.8l1.2 0.4M151.8 183.7l1.6 -1.8l1.2 0.4M154.5 180.5l1.6 -1.8l1.2 0.4M157.2 177.3l1.6 -1.8l1.2 0.4M159.9 174.1l1.6 -1.8l1.2 0.4M162.6 170.9l1.6 -1.8l1.2 0.4M165.3 167.8l1.6 -1.8l1.2 0.4M168.0 164.6l1.6 -1.8l1.2 0.4M170.7 161.4l1.6 -1.8l1.2 0.4M173.4 158.2l1.6 -1.8l1.2 0.4M176.1 155.0l1.6 -1.8l1.2 0.4M178.8 151.8l1.6 -1.8l1.2 0.4M181.5 148.6l1.6 -1.8l1.2 0.4M184.2 145.4l1.6 -1.8l1.2 0.4M186.9 142.2l1.6 -1.8l1.2 0.4M189.6 139.0l1.6 -1.8l1.2 0.4M192.3 135.8l1.6 -1.8l1.2 0.4M195.0 132.6l1.6 -1.8l1.2 0.4M197.7 129.4l1.6 -1.8l1.2 0.4M200.4 126.2l1.6 -1.8l1.2 0.4M203.1 123.0l1.6 -1.8l1.2 0.4M205.8 119.8l1.6 -1.8l1.2 0.4M208.5 116.6l1.6 -1.8l1.2 0.4M211.2 113.4l1.6 -1.8l1.2 0.4M213.9 110.2l1.6 -1.8l1.2 0.4M216.6 107.0l1.6 -1.8l1.2 0.4M219.3 103.8l1.6 -1.8l1.2 0.4M222.0 100.6l1.6 -1.8l1.2 0.4M224.7 97.4l1.6 -1.8l1.2 0.4M227.4 94.2l1.6 -1.8l1.2 0.4M230.1 91.0l1.6 -1.8l1.2 0.4M232.8 87.8l1.6 -1.8l1.2 0.4M235.5 84.6l1.6 -1.8l1.2 0.4M197.5 204.3l1.6 -1.8l1.2 0.4M200.2 201.1l1.6 -1.8l1.2 0.4M202.9 197.9l1.6 -1.8l1.2 0.4M205.6 194.7l1.6 -1.8l1.2 0.4M208.3 191.6l1.6 -1.8l1.2 0.4M211.0 188.4l1.6 -1.8l1.2 0.4M213.7 185.2l1.6 -1.8l1.2 0.4M216.4 182.1l1.6 -1.8l1.2 0.4M219.1 178.9l1.6 -1.8l1.2 0.4M221.8 175.7l1.6 -1.8l1.2 0.4M224.5 172.6l1.6 -1.8l1.2 0.4M227.3 169.4l1.6 -1.8l1.2 0.4M230.0 166.2l1.6 -1.8l1.2 0.4M232.7 163.0l1.6 -1.8l1.2 0.4M235.4 159.9l1.6 -1.8l1.2 0.4M238.1 156.7l1.6 -1.8l1.2 0.4M240.8 153.5l1.6 -1.8l1.2 0.4M243.5 150.4l1.6 -1.8l1.2 0.4M246.2 147.2l1.6 -1.8l1.2 0.4M248.9 144.0l1.6 -1.8l1.2 0.4M251.6 140.9l1.6 -1.8l1.2 0.4M254.3 137.7l1.6 -1.8l1.2 0.4M257.1 134.5l1.6 -1.8l1.2 0.4M259.8 131.3l1.6 -1.8l1.2 0.4M262.5 128.2l1.6 -1.8l1.2 0.4M265.2 125.0l1.6 -1.8l1.2 0.4M267.9 121.8l1.6 -1.8l1.2 0.4M270.6 118.7l1.6 -1.8l1.2 0.4M273.3 115.5l1.6 -1.8l1.2 0.4M276.0 112.3l1.6 -1.8l1.2 0.4M278.7 109.2l1.6 -1.8l1.2 0.4M281.4 106.0l1.6 -1.8l1.2 0.4M284.1 102.8l1.6 -1.8l1.2 0.4M207.6 207.4l1.6 -1.8l1.2 0.4M210.3 204.2l1.6 -1.8l1.2 0.4M212.9 201.0l1.6 -1.8l1.2 0.4M215.6 197.8l1.6 -1.8l1.2 0.4M218.3 194.7l1.6 -1.8l1.2 0.4M220.9 191.5l1.6 -1.8l1.2 0.4M223.6 188.3l1.6 -1.8l1.2 0.4M226.2 185.1l1.6 -1.8l1.2 0.4M228.9 182.0l1.6 -1.8l1.2 0.4M231.6 178.8l1.6 -1.8l1.2 0.4M234.2 175.6l1.6 -1.8l1.2 0.4M236.9 172.5l1.6 -1.8l1.2 0.4M239.6 169.3l1.6 -1.8l1.2 0.4M242.2 166.1l1.6 -1.8l1.2 0.4M244.9 162.9l1.6 -1.8l1.2 0.4M247.5 159.8l1.6 -1.8l1.2 0.4M250.2 156.6l1.6 -1.8l1.2 0.4M252.9 153.4l1.6 -1.8l1.2 0.4M255.5 150.2l1.6 -1.8l1.2 0.4M258.2 147.1l1.6 -1.8l1.2 0.4M260.8 143.9l1.6 -1.8l1.2 0.4M263.5 140.7l1.6 -1.8l1.2 0.4M266.2 137.6l1.6 -1.8l1.2 0.4M268.8 134.4l1.6 -1.8l1.2 0.4M271.5 131.2l1.6 -1.8l1.2 0.4M274.2 128.0l1.6 -1.8l1.2 0.4M276.8 124.9l1.6 -1.8l1.2 0.4M279.5 121.7l1.6 -1.8l1.2 0.4M282.1 118.5l1.6 -1.8l1.2 0.4M284.8 115.3l1.6 -1.8l1.2 0.4M287.5 112.2l1.6 -1.8l1.2 0.4M290.1 109.0l1.6 -1.8l1.2 0.4M292.8 105.8l1.6 -1.8l1.2 0.4" stroke="#f3d6ea" stroke-opacity="0.4" stroke-width="0.7" fill="none"/>
<path d="M104.5 126.5 L168.6 49.8 L339 108.2 L 337 119 C 325 134, 298 172, 270.0 182.5 L 240 175 L 180 155.5 L 161 149.5 L 125 137.5 L 104.5 126.5 Z" fill="url(#gFlat)"/>
<path d="M236 173.5 L270.0 182.5 C 298 172, 325 134, 337 119" stroke="#c3e2fb" stroke-width="3.2" fill="none" stroke-opacity="0.92" stroke-linejoin="round" stroke-linecap="round"/>
<g fill="#3f8fdc" fill-opacity="0.8"><path d="M190.2 64.9L194.7 70.8L185.7 70.8Z"/><path d="M202.5 68.9L207.1 74.8L198.0 74.8Z"/><path d="M214.8 72.9L219.4 78.8L210.2 78.8Z"/><path d="M251.2 84.6L255.9 90.7L246.5 90.7Z"/><path d="M263.2 88.5L267.9 94.6L258.5 94.6Z"/><path d="M275.1 92.4L279.9 98.5L270.4 98.5Z"/><path d="M310.6 103.8L315.4 110.1L305.7 110.1Z"/><path d="M322.3 107.6L327.2 113.9L317.4 113.9Z"/><path d="M333.9 111.3L338.9 117.7L329.0 117.7Z"/><path d="M345.5 115.1L350.5 121.5L340.6 121.5Z"/></g>
<polygon points="166.0,55.0 187.5,62.5 182.4,68.5 160.7,61.0" fill="#c79ad2" fill-opacity="0.6"/><polygon points="223.2,76.2 244.7,83.7 239.7,89.7 218.0,82.2" fill="#c79ad2" fill-opacity="0.6"/><polygon points="280.4,97.4 301.9,104.9 297.0,110.8 275.3,103.3" fill="#c79ad2" fill-opacity="0.6"/>
<path d="M107 42 L276 99.5 C 268 125, 262 155, 265 177.5 L240 175 L 180 155.5 L 161 149.5 L 125 137.5 L95 124 C 92 100, 98 65, 107 42 Z" fill="url(#gLift)" mask="url(#mLift)"/>
<g clip-path="url(#clipFlat)"><g fill="#ee9a7c" fill-opacity="0.75"><circle cx="182.6" cy="75.0" r="0.9"/><circle cx="194.9" cy="79.0" r="0.9"/><circle cx="175.9" cy="82.8" r="0.9"/><circle cx="179.2" cy="79.2" r="0.8"/><circle cx="207.1" cy="83.0" r="0.9"/><circle cx="188.3" cy="86.8" r="0.9"/><circle cx="191.6" cy="83.2" r="0.8"/><circle cx="169.3" cy="90.7" r="0.9"/><circle cx="172.6" cy="87.1" r="0.8"/><circle cx="200.5" cy="90.8" r="0.9"/><circle cx="203.8" cy="87.2" r="0.8"/><circle cx="181.6" cy="94.6" r="0.9"/><circle cx="184.9" cy="91.0" r="0.8"/><circle cx="243.5" cy="94.8" r="0.9"/><circle cx="162.8" cy="98.4" r="0.9"/><circle cx="166.1" cy="94.8" r="0.8"/><circle cx="193.9" cy="98.5" r="0.9"/><circle cx="197.2" cy="94.9" r="0.8"/><circle cx="255.5" cy="98.7" r="0.9"/><circle cx="175.1" cy="102.4" r="0.9"/><circle cx="178.4" cy="98.8" r="0.8"/><circle cx="236.8" cy="102.6" r="0.9"/><circle cx="240.1" cy="99.0" r="0.8"/><circle cx="267.4" cy="102.6" r="0.9"/><circle cx="156.2" cy="106.2" r="0.9"/><circle cx="159.5" cy="102.6" r="0.8"/><circle cx="187.3" cy="106.3" r="0.9"/><circle cx="190.6" cy="102.7" r="0.8"/><circle cx="248.8" cy="106.4" r="0.9"/><circle cx="252.1" cy="102.8" r="0.8"/><circle cx="168.5" cy="110.1" r="0.9"/><circle cx="171.8" cy="106.5" r="0.8"/><circle cx="230.2" cy="110.2" r="0.9"/><circle cx="233.5" cy="106.6" r="0.8"/><circle cx="260.8" cy="110.3" r="0.9"/><circle cx="264.1" cy="106.7" r="0.8"/><circle cx="149.7" cy="113.9" r="0.9"/><circle cx="153.0" cy="110.3" r="0.8"/><circle cx="180.7" cy="114.0" r="0.9"/><circle cx="184.0" cy="110.4" r="0.8"/><circle cx="242.2" cy="114.1" r="0.9"/><circle cx="245.5" cy="110.5" r="0.8"/><circle cx="302.9" cy="114.2" r="0.9"/><circle cx="162.0" cy="117.8" r="0.9"/><circle cx="165.3" cy="114.2" r="0.8"/><circle cx="223.6" cy="117.9" r="0.9"/><circle cx="226.9" cy="114.3" r="0.8"/><circle cx="254.1" cy="117.9" r="0.9"/><circle cx="257.4" cy="114.3" r="0.8"/><circle cx="314.6" cy="118.0" r="0.9"/><circle cx="143.2" cy="121.6" r="0.9"/><circle cx="146.5" cy="118.0" r="0.8"/><circle cx="174.2" cy="121.7" r="0.9"/><circle cx="177.5" cy="118.1" r="0.8"/><circle cx="235.6" cy="121.7" r="0.9"/><circle cx="238.9" cy="118.1" r="0.8"/><circle cx="296.2" cy="121.8" r="0.9"/><circle cx="299.5" cy="118.2" r="0.8"/><circle cx="326.2" cy="121.8" r="0.9"/><circle cx="155.5" cy="125.5" r="0.9"/><circle cx="158.8" cy="121.9" r="0.8"/><circle cx="217.0" cy="125.5" r="0.9"/><circle cx="220.3" cy="121.9" r="0.8"/><circle cx="247.5" cy="125.5" r="0.9"/><circle cx="250.8" cy="121.9" r="0.8"/><circle cx="307.9" cy="125.6" r="0.9"/><circle cx="311.2" cy="122.0" r="0.8"/><circle cx="337.8" cy="125.6" r="0.9"/><circle cx="136.7" cy="129.3" r="0.9"/><circle cx="140.0" cy="125.7" r="0.8"/><circle cx="167.7" cy="129.3" r="0.9"/><circle cx="171.0" cy="125.7" r="0.8"/><circle cx="229.0" cy="129.3" r="0.9"/><circle cx="232.3" cy="125.7" r="0.8"/><circle cx="289.5" cy="129.3" r="0.9"/><circle cx="292.8" cy="125.7" r="0.8"/><circle cx="319.5" cy="129.3" r="0.9"/><circle cx="322.8" cy="125.7" r="0.8"/><circle cx="331.1" cy="133.1" r="0.9"/><circle cx="334.4" cy="129.5" r="0.8"/><circle cx="301.2" cy="133.1" r="0.9"/><circle cx="304.5" cy="129.5" r="0.8"/><circle cx="240.9" cy="133.1" r="0.9"/><circle cx="244.2" cy="129.5" r="0.8"/><circle cx="210.5" cy="133.1" r="0.9"/><circle cx="213.8" cy="129.5" r="0.8"/><circle cx="149.0" cy="133.1" r="0.9"/><circle cx="152.3" cy="129.5" r="0.8"/><circle cx="312.8" cy="136.8" r="0.9"/><circle cx="316.1" cy="133.2" r="0.8"/><circle cx="282.9" cy="136.8" r="0.9"/><circle cx="286.2" cy="133.2" r="0.8"/><circle cx="222.4" cy="136.9" r="0.9"/><circle cx="225.7" cy="133.3" r="0.8"/><circle cx="161.2" cy="136.9" r="0.9"/><circle cx="164.5" cy="133.3" r="0.8"/><circle cx="130.3" cy="136.9" r="0.9"/><circle cx="133.6" cy="133.3" r="0.8"/><circle cx="324.4" cy="140.5" r="0.9"/><circle cx="327.7" cy="136.9" r="0.8"/><circle cx="294.6" cy="140.6" r="0.9"/><circle cx="297.9" cy="137.0" r="0.8"/><circle cx="234.3" cy="140.6" r="0.9"/><circle cx="237.6" cy="137.0" r="0.8"/><circle cx="203.9" cy="140.7" r="0.9"/><circle cx="207.2" cy="137.1" r="0.8"/><circle cx="142.6" cy="140.7" r="0.9"/><circle cx="145.9" cy="137.1" r="0.8"/><circle cx="306.2" cy="144.3" r="0.9"/><circle cx="309.5" cy="140.7" r="0.8"/><circle cx="276.3" cy="144.3" r="0.9"/><circle cx="279.6" cy="140.7" r="0.8"/><circle cx="215.9" cy="144.4" r="0.9"/><circle cx="219.2" cy="140.8" r="0.8"/><circle cx="154.7" cy="144.5" r="0.9"/><circle cx="158.0" cy="140.9" r="0.8"/><circle cx="123.9" cy="144.5" r="0.9"/><circle cx="127.2" cy="140.9" r="0.8"/><circle cx="317.7" cy="148.0" r="0.9"/><circle cx="321.0" cy="144.4" r="0.8"/><circle cx="287.9" cy="148.0" r="0.9"/><circle cx="291.2" cy="144.4" r="0.8"/><circle cx="227.8" cy="148.1" r="0.9"/><circle cx="231.1" cy="144.5" r="0.8"/><circle cx="197.4" cy="148.2" r="0.9"/><circle cx="200.7" cy="144.6" r="0.8"/><circle cx="136.1" cy="148.3" r="0.9"/><circle cx="139.4" cy="144.7" r="0.8"/><circle cx="299.5" cy="151.7" r="0.9"/><circle cx="302.8" cy="148.1" r="0.8"/><circle cx="269.7" cy="151.8" r="0.9"/><circle cx="273.0" cy="148.2" r="0.8"/><circle cx="209.4" cy="151.9" r="0.9"/><circle cx="212.7" cy="148.3" r="0.8"/><circle cx="148.3" cy="152.0" r="0.9"/><circle cx="151.6" cy="148.4" r="0.8"/><circle cx="117.5" cy="152.1" r="0.9"/><circle cx="120.8" cy="148.5" r="0.8"/><circle cx="311.1" cy="155.4" r="0.9"/><circle cx="314.4" cy="151.8" r="0.8"/><circle cx="281.3" cy="155.4" r="0.9"/><circle cx="284.6" cy="151.8" r="0.8"/><circle cx="221.3" cy="155.6" r="0.9"/><circle cx="224.6" cy="152.0" r="0.8"/><circle cx="191.0" cy="155.7" r="0.9"/><circle cx="194.3" cy="152.1" r="0.8"/><circle cx="129.7" cy="155.9" r="0.9"/><circle cx="133.0" cy="152.3" r="0.8"/><circle cx="292.9" cy="159.1" r="0.9"/><circle cx="296.2" cy="155.5" r="0.8"/><circle cx="263.1" cy="159.2" r="0.9"/><circle cx="266.4" cy="155.6" r="0.8"/><circle cx="202.9" cy="159.4" r="0.9"/><circle cx="206.2" cy="155.8" r="0.8"/><circle cx="141.9" cy="159.6" r="0.9"/><circle cx="145.2" cy="156.0" r="0.8"/><circle cx="111.1" cy="159.7" r="0.9"/><circle cx="114.4" cy="156.1" r="0.8"/><circle cx="304.5" cy="162.7" r="0.9"/><circle cx="307.8" cy="159.1" r="0.8"/><circle cx="274.8" cy="162.9" r="0.9"/><circle cx="278.1" cy="159.3" r="0.8"/><circle cx="214.8" cy="163.1" r="0.9"/><circle cx="218.1" cy="159.5" r="0.8"/><circle cx="184.5" cy="163.2" r="0.9"/><circle cx="187.8" cy="159.6" r="0.8"/><circle cx="123.4" cy="163.4" r="0.9"/><circle cx="126.7" cy="159.8" r="0.8"/><circle cx="286.4" cy="166.5" r="0.9"/><circle cx="289.7" cy="162.9" r="0.8"/><circle cx="256.6" cy="166.6" r="0.9"/><circle cx="259.9" cy="163.0" r="0.8"/><circle cx="196.4" cy="166.8" r="0.9"/><circle cx="199.7" cy="163.2" r="0.8"/><circle cx="135.5" cy="167.1" r="0.9"/><circle cx="138.8" cy="163.5" r="0.8"/><circle cx="104.8" cy="167.2" r="0.9"/><circle cx="108.1" cy="163.6" r="0.8"/><circle cx="73.8" cy="167.3" r="0.9"/><circle cx="297.9" cy="170.1" r="0.9"/><circle cx="301.2" cy="166.5" r="0.8"/><circle cx="268.2" cy="170.2" r="0.9"/><circle cx="271.5" cy="166.6" r="0.8"/><circle cx="208.3" cy="170.5" r="0.9"/><circle cx="211.6" cy="166.9" r="0.8"/><circle cx="178.1" cy="170.6" r="0.9"/><circle cx="181.4" cy="167.0" r="0.8"/><circle cx="117.0" cy="170.9" r="0.9"/><circle cx="120.3" cy="167.3" r="0.8"/><circle cx="86.2" cy="171.0" r="0.9"/><circle cx="279.8" cy="173.8" r="0.9"/><circle cx="283.1" cy="170.2" r="0.8"/><circle cx="250.1" cy="174.0" r="0.9"/><circle cx="253.4" cy="170.4" r="0.8"/><circle cx="190.0" cy="174.2" r="0.9"/><circle cx="193.3" cy="170.6" r="0.8"/><circle cx="129.2" cy="174.5" r="0.9"/><circle cx="132.5" cy="170.9" r="0.8"/><circle cx="98.5" cy="174.7" r="0.9"/><circle cx="101.8" cy="171.1" r="0.8"/><circle cx="291.4" cy="177.4" r="0.9"/><circle cx="294.7" cy="173.8" r="0.8"/><circle cx="261.7" cy="177.6" r="0.9"/><circle cx="265.0" cy="174.0" r="0.8"/><circle cx="201.9" cy="177.9" r="0.9"/><circle cx="205.2" cy="174.3" r="0.8"/><circle cx="171.7" cy="178.0" r="0.9"/><circle cx="175.0" cy="174.4" r="0.8"/><circle cx="110.7" cy="178.3" r="0.9"/><circle cx="114.0" cy="174.7" r="0.8"/><circle cx="273.3" cy="181.2" r="0.9"/><circle cx="276.6" cy="177.6" r="0.8"/><circle cx="243.6" cy="181.3" r="0.9"/><circle cx="246.9" cy="177.7" r="0.8"/><circle cx="183.6" cy="181.6" r="0.9"/><circle cx="186.9" cy="178.0" r="0.8"/><circle cx="122.8" cy="182.0" r="0.9"/><circle cx="126.1" cy="178.4" r="0.8"/><circle cx="284.8" cy="184.7" r="0.9"/><circle cx="288.1" cy="181.1" r="0.8"/><circle cx="255.2" cy="184.9" r="0.9"/><circle cx="258.5" cy="181.3" r="0.8"/><circle cx="195.5" cy="185.2" r="0.9"/><circle cx="198.8" cy="181.6" r="0.8"/><circle cx="165.3" cy="185.4" r="0.9"/><circle cx="168.6" cy="181.8" r="0.8"/><circle cx="266.8" cy="188.4" r="0.9"/><circle cx="270.1" cy="184.8" r="0.8"/><circle cx="237.1" cy="188.6" r="0.9"/><circle cx="240.4" cy="185.0" r="0.8"/><circle cx="177.2" cy="189.0" r="0.9"/><circle cx="180.5" cy="185.4" r="0.8"/><circle cx="278.3" cy="192.0" r="0.9"/><circle cx="281.6" cy="188.4" r="0.8"/><circle cx="248.8" cy="192.2" r="0.9"/><circle cx="252.1" cy="188.6" r="0.8"/><circle cx="189.1" cy="192.6" r="0.9"/><circle cx="192.4" cy="189.0" r="0.8"/><circle cx="158.9" cy="192.8" r="0.9"/><circle cx="162.2" cy="189.2" r="0.8"/><circle cx="260.3" cy="195.7" r="0.9"/><circle cx="263.6" cy="192.1" r="0.8"/><circle cx="230.7" cy="195.9" r="0.9"/><circle cx="234.0" cy="192.3" r="0.8"/><circle cx="170.8" cy="196.3" r="0.9"/><circle cx="174.1" cy="192.7" r="0.8"/><circle cx="271.8" cy="199.2" r="0.9"/><circle cx="275.1" cy="195.6" r="0.8"/><circle cx="242.3" cy="199.4" r="0.9"/><circle cx="245.6" cy="195.8" r="0.8"/><circle cx="182.7" cy="199.9" r="0.9"/><circle cx="186.0" cy="196.3" r="0.8"/><circle cx="253.9" cy="202.9" r="0.9"/><circle cx="257.2" cy="199.3" r="0.8"/><circle cx="224.3" cy="203.2" r="0.9"/><circle cx="227.6" cy="199.6" r="0.8"/><circle cx="265.4" cy="206.4" r="0.9"/><circle cx="268.7" cy="202.8" r="0.8"/><circle cx="235.9" cy="206.7" r="0.9"/><circle cx="239.2" cy="203.1" r="0.8"/><circle cx="247.5" cy="210.2" r="0.9"/><circle cx="250.8" cy="206.6" r="0.8"/><circle cx="217.9" cy="210.4" r="0.9"/><circle cx="221.2" cy="206.8" r="0.8"/><circle cx="259.0" cy="213.6" r="0.9"/><circle cx="262.3" cy="210.0" r="0.8"/><circle cx="229.5" cy="213.9" r="0.9"/><circle cx="232.8" cy="210.3" r="0.8"/><circle cx="241.1" cy="217.3" r="0.9"/><circle cx="244.4" cy="213.7" r="0.8"/><circle cx="252.6" cy="220.8" r="0.9"/><circle cx="255.9" cy="217.2" r="0.8"/></g><g fill="#fbeef2" fill-opacity="0.7"><circle cx="157.7" cy="66.9" r="0.9"/><circle cx="170.2" cy="70.9" r="0.9"/><circle cx="151.1" cy="74.8" r="0.9"/><circle cx="154.4" cy="71.2" r="0.8"/><circle cx="163.6" cy="78.8" r="0.9"/><circle cx="166.9" cy="75.2" r="0.8"/><circle cx="144.5" cy="82.7" r="0.9"/><circle cx="147.8" cy="79.1" r="0.8"/><circle cx="157.0" cy="86.7" r="0.9"/><circle cx="160.3" cy="83.1" r="0.8"/><circle cx="219.3" cy="87.0" r="0.9"/><circle cx="138.0" cy="90.5" r="0.9"/><circle cx="141.3" cy="86.9" r="0.8"/><circle cx="231.4" cy="90.9" r="0.9"/><circle cx="150.4" cy="94.5" r="0.9"/><circle cx="153.7" cy="90.9" r="0.8"/><circle cx="212.7" cy="94.7" r="0.9"/><circle cx="216.0" cy="91.1" r="0.8"/><circle cx="131.5" cy="98.3" r="0.9"/><circle cx="134.8" cy="94.7" r="0.8"/><circle cx="224.8" cy="98.6" r="0.9"/><circle cx="228.1" cy="95.0" r="0.8"/><circle cx="143.9" cy="102.3" r="0.9"/><circle cx="147.2" cy="98.7" r="0.8"/><circle cx="206.1" cy="102.5" r="0.9"/><circle cx="209.4" cy="98.9" r="0.8"/><circle cx="124.9" cy="106.1" r="0.9"/><circle cx="128.2" cy="102.5" r="0.8"/><circle cx="218.2" cy="106.4" r="0.9"/><circle cx="221.5" cy="102.8" r="0.8"/><circle cx="279.3" cy="106.5" r="0.9"/><circle cx="137.4" cy="110.0" r="0.9"/><circle cx="140.7" cy="106.4" r="0.8"/><circle cx="199.5" cy="110.2" r="0.9"/><circle cx="202.8" cy="106.6" r="0.8"/><circle cx="291.1" cy="110.4" r="0.9"/><circle cx="118.5" cy="113.9" r="0.9"/><circle cx="121.8" cy="110.3" r="0.8"/><circle cx="211.6" cy="114.0" r="0.9"/><circle cx="214.9" cy="110.4" r="0.8"/><circle cx="272.6" cy="114.1" r="0.9"/><circle cx="275.9" cy="110.5" r="0.8"/><circle cx="130.9" cy="117.8" r="0.9"/><circle cx="134.2" cy="114.2" r="0.8"/><circle cx="192.9" cy="117.8" r="0.9"/><circle cx="196.2" cy="114.2" r="0.8"/><circle cx="284.4" cy="118.0" r="0.9"/><circle cx="287.7" cy="114.4" r="0.8"/><circle cx="112.0" cy="121.6" r="0.9"/><circle cx="115.3" cy="118.0" r="0.8"/><circle cx="205.0" cy="121.7" r="0.9"/><circle cx="208.3" cy="118.1" r="0.8"/><circle cx="266.0" cy="121.7" r="0.9"/><circle cx="269.3" cy="118.1" r="0.8"/><circle cx="124.4" cy="125.5" r="0.9"/><circle cx="127.7" cy="121.9" r="0.8"/><circle cx="186.4" cy="125.5" r="0.9"/><circle cx="189.7" cy="121.9" r="0.8"/><circle cx="277.8" cy="125.5" r="0.9"/><circle cx="281.1" cy="121.9" r="0.8"/><circle cx="105.6" cy="129.3" r="0.9"/><circle cx="108.9" cy="125.7" r="0.8"/><circle cx="198.4" cy="129.3" r="0.9"/><circle cx="201.7" cy="125.7" r="0.8"/><circle cx="259.4" cy="129.3" r="0.9"/><circle cx="262.7" cy="125.7" r="0.8"/><circle cx="271.1" cy="133.1" r="0.9"/><circle cx="274.4" cy="129.5" r="0.8"/><circle cx="179.8" cy="133.1" r="0.9"/><circle cx="183.1" cy="129.5" r="0.8"/><circle cx="118.0" cy="133.1" r="0.9"/><circle cx="121.3" cy="129.5" r="0.8"/><circle cx="252.8" cy="136.8" r="0.9"/><circle cx="256.1" cy="133.2" r="0.8"/><circle cx="191.9" cy="136.9" r="0.9"/><circle cx="195.2" cy="133.3" r="0.8"/><circle cx="99.2" cy="137.0" r="0.9"/><circle cx="102.5" cy="133.4" r="0.8"/><circle cx="264.5" cy="140.6" r="0.9"/><circle cx="267.8" cy="137.0" r="0.8"/><circle cx="173.3" cy="140.7" r="0.9"/><circle cx="176.6" cy="137.1" r="0.8"/><circle cx="111.6" cy="140.8" r="0.9"/><circle cx="114.9" cy="137.2" r="0.8"/><circle cx="246.2" cy="144.4" r="0.9"/><circle cx="249.5" cy="140.8" r="0.8"/><circle cx="185.4" cy="144.4" r="0.9"/><circle cx="188.7" cy="140.8" r="0.8"/><circle cx="92.8" cy="144.6" r="0.9"/><circle cx="96.1" cy="141.0" r="0.8"/><circle cx="258.0" cy="148.1" r="0.9"/><circle cx="261.3" cy="144.5" r="0.8"/><circle cx="166.9" cy="148.2" r="0.9"/><circle cx="170.2" cy="144.6" r="0.8"/><circle cx="105.2" cy="148.4" r="0.9"/><circle cx="108.5" cy="144.8" r="0.8"/><circle cx="239.6" cy="151.8" r="0.9"/><circle cx="242.9" cy="148.2" r="0.8"/><circle cx="178.9" cy="152.0" r="0.9"/><circle cx="182.2" cy="148.4" r="0.8"/><circle cx="86.5" cy="152.2" r="0.9"/><circle cx="89.8" cy="148.6" r="0.8"/><circle cx="251.4" cy="155.5" r="0.9"/><circle cx="254.7" cy="151.9" r="0.8"/><circle cx="160.4" cy="155.8" r="0.9"/><circle cx="163.7" cy="152.2" r="0.8"/><circle cx="98.8" cy="155.9" r="0.9"/><circle cx="102.1" cy="152.3" r="0.8"/><circle cx="233.1" cy="159.3" r="0.9"/><circle cx="236.4" cy="155.7" r="0.8"/><circle cx="172.5" cy="159.5" r="0.9"/><circle cx="175.8" cy="155.9" r="0.8"/><circle cx="80.1" cy="159.8" r="0.9"/><circle cx="83.4" cy="156.2" r="0.8"/><circle cx="244.9" cy="163.0" r="0.9"/><circle cx="248.2" cy="159.4" r="0.8"/><circle cx="154.0" cy="163.3" r="0.9"/><circle cx="157.3" cy="159.7" r="0.8"/><circle cx="92.5" cy="163.5" r="0.9"/><circle cx="95.8" cy="159.9" r="0.8"/><circle cx="226.6" cy="166.7" r="0.9"/><circle cx="229.9" cy="163.1" r="0.8"/><circle cx="166.1" cy="166.9" r="0.9"/><circle cx="169.4" cy="163.3" r="0.8"/><circle cx="77.1" cy="163.7" r="0.8"/><circle cx="238.4" cy="170.4" r="0.9"/><circle cx="241.7" cy="166.8" r="0.8"/><circle cx="147.6" cy="170.7" r="0.9"/><circle cx="150.9" cy="167.1" r="0.8"/><circle cx="89.5" cy="167.4" r="0.8"/><circle cx="220.1" cy="174.1" r="0.9"/><circle cx="223.4" cy="170.5" r="0.8"/><circle cx="159.7" cy="174.4" r="0.9"/><circle cx="163.0" cy="170.8" r="0.8"/><circle cx="231.9" cy="177.7" r="0.9"/><circle cx="235.2" cy="174.1" r="0.8"/><circle cx="141.3" cy="178.2" r="0.9"/><circle cx="144.6" cy="174.6" r="0.8"/><circle cx="213.7" cy="181.5" r="0.9"/><circle cx="217.0" cy="177.9" r="0.8"/><circle cx="153.3" cy="181.8" r="0.9"/><circle cx="156.6" cy="178.2" r="0.8"/><circle cx="225.4" cy="185.1" r="0.9"/><circle cx="228.7" cy="181.5" r="0.8"/><circle cx="134.9" cy="185.6" r="0.9"/><circle cx="138.2" cy="182.0" r="0.8"/><circle cx="207.3" cy="188.8" r="0.9"/><circle cx="210.6" cy="185.2" r="0.8"/><circle cx="147.0" cy="189.2" r="0.9"/><circle cx="150.3" cy="185.6" r="0.8"/><circle cx="219.0" cy="192.4" r="0.9"/><circle cx="222.3" cy="188.8" r="0.8"/><circle cx="200.9" cy="196.1" r="0.9"/><circle cx="204.2" cy="192.5" r="0.8"/><circle cx="212.6" cy="199.7" r="0.9"/><circle cx="215.9" cy="196.1" r="0.8"/><circle cx="194.5" cy="203.4" r="0.9"/><circle cx="197.8" cy="199.8" r="0.8"/><circle cx="206.2" cy="206.9" r="0.9"/><circle cx="209.5" cy="203.3" r="0.8"/></g></g>
<path d="M278 100.5 C 268 125, 262 158, 265 175.5 S 267 182, 273.0 182.0" stroke="#ffffff" stroke-width="1.6" fill="none" stroke-opacity="0.95"/>
</g></g>
</svg>
</body></html>
